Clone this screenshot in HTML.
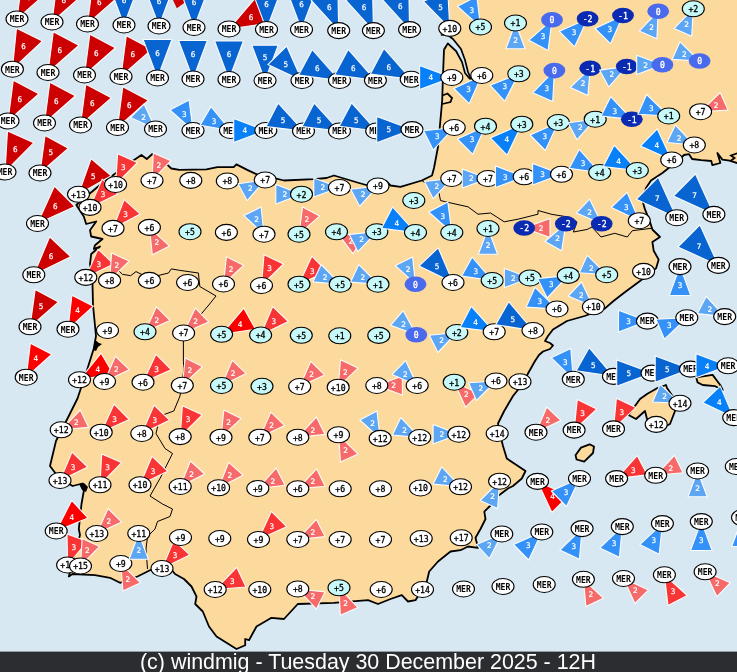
<!DOCTYPE html>
<html><head><meta charset="utf-8"><title>windmig</title>
<style>html,body{margin:0;padding:0;background:#d7e8f3;overflow:hidden}svg{display:block;will-change:transform}</style></head>
<body>
<svg width="737" height="672" viewBox="0 0 737 672" style="display:block">
<rect width="737" height="672" fill="#d7e8f3"/>
<polygon points="445.5,-2.0 447.0,20.0 448.0,34.0 446.0,46.0 444.0,50.0 443.0,75.0 442.2,100.0 441.8,105.0 438.0,147.0 434.0,168.0 432.0,175.5 421.8,180.5 400.5,186.8 390.5,185.5 386.0,181.0 368.0,185.5 359.0,183.0 334.0,175.5 326.5,178.0 314.0,179.2 284.0,180.5 269.0,176.8 256.5,174.2 247.2,169.9 236.4,164.4 233.7,167.1 217.4,167.1 206.5,169.3 179.4,169.9 171.3,168.5 168.5,165.8 152.3,154.0 146.8,159.0 141.4,155.0 133.3,160.4 120.0,170.0 100.0,185.0 82.0,200.0 76.3,205.0 83.8,216.5 86.2,224.0 96.2,221.5 90.0,230.2 91.2,236.5 102.5,239.0 95.0,245.2 93.8,249.0 100.0,246.5 91.2,254.0 90.0,264.0 92.0,275.0 92.5,283.8 93.0,305.0 96.0,336.0 93.8,348.5 87.5,368.5 77.5,398.5 67.5,418.5 56.0,441.0 50.0,466.0 57.5,476.0 72.5,486.0 82.5,483.5 83.8,491.0 81.5,504.0 78.8,529.0 80.0,535.0 76.0,550.0 68.8,576.5 72.5,574.0 95.0,575.2 110.0,577.8 120.0,582.8 137.5,576.5 150.0,570.2 170.0,567.8 175.0,574.0 184.0,579.0 191.5,586.5 196.5,596.5 195.2,604.0 202.8,611.5 209.0,626.5 216.5,636.5 236.5,649.0 245.2,645.2 245.2,639.0 249.0,640.2 256.5,626.5 271.5,617.8 284.0,619.0 297.8,604.0 334.0,602.8 368.0,600.2 378.0,604.0 390.5,599.0 401.8,595.2 408.0,601.5 415.5,600.2 426.8,581.5 429.2,571.5 438.0,561.5 450.5,551.5 460.5,550.2 468.0,546.5 478.0,547.8 475.5,537.8 480.5,529.0 485.5,519.0 484.3,511.6 491.0,505.0 498.0,496.0 508.0,488.5 513.0,486.0 521.8,478.5 525.5,471.0 518.0,466.0 506.8,458.5 503.0,446.0 500.5,436.0 498.0,423.5 504.2,411.0 513.0,396.0 523.0,383.5 528.0,373.5 535.0,361.0 539.0,355.0 543.0,351.5 550.0,349.0 553.0,345.5 550.0,343.0 545.0,341.0 548.0,336.0 553.0,329.5 567.0,321.0 584.6,316.0 604.7,308.6 613.5,301.0 624.8,292.2 640.0,281.0 656.0,268.4 658.7,259.6 653.7,250.8 652.4,242.0 660.0,237.0 652.4,229.5 650.0,222.0 645.0,209.4 642.4,200.6 646.0,188.0 651.0,180.5 662.4,173.0 668.7,168.0 676.0,163.0 684.0,155.0 689.1,154.2 692.1,159.0 701.2,160.2 711.3,161.0 712.3,165.1 720.4,163.0 717.4,153.0 722.4,159.6 729.5,160.6 740.0,164.0 740.0,-2.0" fill="#fcd99c" stroke="#000" stroke-width="1.8" stroke-linejoin="round"/>
<polygon points="656.2,388.7 666.0,385.0 667.0,388.0 672.5,396.0 675.0,411.0 670.0,424.0 662.0,428.0 647.0,419.0 645.0,411.0 636.0,419.0 628.5,415.0 635.0,406.0 640.0,399.0 647.4,393.7" fill="#fcd99c" stroke="#000" stroke-width="1.8" stroke-linejoin="round"/>
<polygon points="696.3,377.4 712.6,374.9 720.2,385.0 722.7,390.0 715.2,386.2 702.6,385.0 697.6,382.4" fill="#fcd99c" stroke="#000" stroke-width="1.8" stroke-linejoin="round"/>
<polygon points="575.5,455.2 581.0,447.6 589.6,444.3 594.0,446.5 593.0,453.0 584.2,461.7 576.6,459.5" fill="#fcd99c" stroke="#000" stroke-width="1.8" stroke-linejoin="round"/>
<polygon points="441.5,35.0 447.0,34.5 453.0,39.0 461.0,49.0 465.0,60.0 468.0,72.0 471.0,79.0 469.5,78.5 465.0,73.0 462.0,62.0 456.0,51.0 447.8,43.5 444.6,48.5" fill="#d7e8f3" stroke="#d7e8f3" stroke-width="1.2"/>
<polyline points="441.5,35.0 447.0,34.5 453.0,39.0 461.0,49.0 465.0,60.0 468.0,72.0 471.0,79.0" fill="none" stroke="#000" stroke-width="1.7" stroke-linejoin="round" stroke-linecap="round"/>
<polyline points="444.6,48.5 447.8,43.5 456.0,51.0 462.0,62.0 465.0,73.0 469.5,78.5" fill="none" stroke="#000" stroke-width="1.7" stroke-linejoin="round" stroke-linecap="round"/>
<polyline points="442.5,95.5 447.5,93.5 452.0,98.0 450.5,102.0 442.3,104.0" fill="none" stroke="#000" stroke-width="1.8"/>
<polyline points="738.0,153.0 731.0,155.5 734.5,158.0 730.5,161.0" fill="none" stroke="#000" stroke-width="1.8"/>
<polygon points="79.0,484.0 84.0,483.0 88.0,487.0 86.0,492.0 82.0,490.0" fill="#000"/>
<polygon points="95.0,340.0 99.0,343.0 102.0,344.0 98.0,347.0 96.0,351.0 93.0,350.0" fill="#000"/>
<polyline points="118.3,270.3 122.4,274.3 130.6,275.7 136.0,271.6 141.4,274.3 152.3,277.0 168.5,273.0 171.3,268.9 179.4,270.3 198.4,273.0 199.8,286.5 216.0,296.0 208.8,305.0 201.3,313.9 190.0,325.0 183.4,340.7 183.4,361.6 184.0,368.5 180.0,396.0 173.8,411.0 160.0,416.0 156.0,433.5 165.0,448.5 172.5,453.5 160.0,478.5 150.0,496.0 162.5,504.0 172.5,509.0 170.0,516.5 157.5,521.5 155.0,529.0 147.5,536.5 146.0,549.0 147.5,569.0" fill="none" stroke="#000" stroke-width="1"/>
<polyline points="421.8,180.5 439.0,193.0 440.5,200.5 445.5,201.8 468.0,206.8 478.0,214.2 490.5,213.0 504.2,221.8 518.0,219.2 538.0,214.2 538.0,210.5 552.0,214.4 568.3,217.0 577.0,222.0 573.3,232.0 587.0,229.5 592.0,227.0 601.0,237.0 614.7,233.3 627.3,237.0 632.3,230.7 652.4,228.2" fill="none" stroke="#000" stroke-width="1"/>
<polygon points="172.5,-1.0 176.8,8.2 184.2,3.0 186.0,-1.0" fill="#cc0000"/>
<g font-family="'DejaVu Sans Mono','Liberation Mono',monospace" font-size="8px" text-anchor="middle">
<polygon points="5.0,172.0 33.9,142.7 7.5,131.0" fill="#cc0000" stroke="#fff" stroke-opacity=".95" stroke-width="1.1" stroke-linejoin="round"/>
<text x="15.3" y="151.8" fill="#fff" stroke="#fff" stroke-width=".2" font-size="7.7px">6</text>
<ellipse cx="5.0" cy="172.0" rx="11" ry="8" fill="#ffffff" stroke="#000" stroke-width="1.1"/>
<text x="5.0" y="175.3" fill="#000" stroke="#000" stroke-width="0" font-weight="bold" textLength="14.7" lengthAdjust="spacingAndGlyphs">MER</text>
<polygon points="8.0,121.0 38.8,93.8 13.3,80.2" fill="#cc0000" stroke="#fff" stroke-opacity=".95" stroke-width="1.1" stroke-linejoin="round"/>
<text x="19.8" y="101.5" fill="#fff" stroke="#fff" stroke-width=".2" font-size="7.7px">6</text>
<ellipse cx="8.0" cy="121.0" rx="11" ry="8" fill="#ffffff" stroke="#000" stroke-width="1.1"/>
<text x="8.0" y="124.3" fill="#000" stroke="#000" stroke-width="0" font-weight="bold" textLength="14.7" lengthAdjust="spacingAndGlyphs">MER</text>
<polygon points="12.4,69.2 42.4,41.1 16.5,28.3" fill="#cc0000" stroke="#fff" stroke-opacity=".95" stroke-width="1.1" stroke-linejoin="round"/>
<text x="23.6" y="49.4" fill="#fff" stroke="#fff" stroke-width=".2" font-size="7.7px">6</text>
<ellipse cx="12.4" cy="69.2" rx="11" ry="8" fill="#ffffff" stroke="#000" stroke-width="1.1"/>
<text x="12.4" y="72.5" fill="#000" stroke="#000" stroke-width="0" font-weight="bold" textLength="14.7" lengthAdjust="spacingAndGlyphs">MER</text>
<polygon points="17.0,19.0 47.8,-8.2 22.3,-21.8" fill="#cc0000" stroke="#fff" stroke-opacity=".95" stroke-width="1.1" stroke-linejoin="round"/>
<text x="28.8" y="-0.5" fill="#fff" stroke="#fff" stroke-width=".2" font-size="7.7px">6</text>
<ellipse cx="17.0" cy="19.0" rx="11" ry="8" fill="#ffffff" stroke="#000" stroke-width="1.1"/>
<text x="17.0" y="22.3" fill="#000" stroke="#000" stroke-width="0" font-weight="bold" textLength="14.7" lengthAdjust="spacingAndGlyphs">MER</text>
<polygon points="26.2,377.2 51.7,354.3 30.4,343.2" fill="#fc0000" stroke="#fff" stroke-opacity=".95" stroke-width="1.1" stroke-linejoin="round"/>
<text x="35.9" y="361.4" fill="#fff" stroke="#fff" stroke-width=".2" font-size="7.7px">4</text>
<ellipse cx="26.2" cy="377.2" rx="11" ry="8" fill="#ffffff" stroke="#000" stroke-width="1.1"/>
<text x="26.2" y="380.6" fill="#000" stroke="#000" stroke-width="0" font-weight="bold" textLength="14.7" lengthAdjust="spacingAndGlyphs">MER</text>
<polygon points="30.0,326.8 58.5,302.0 35.2,289.4" fill="#cc0000" stroke="#fff" stroke-opacity=".95" stroke-width="1.1" stroke-linejoin="round"/>
<text x="41.0" y="309.2" fill="#fff" stroke="#fff" stroke-width=".2" font-size="7.7px">5</text>
<ellipse cx="30.0" cy="326.8" rx="11" ry="8" fill="#ffffff" stroke="#000" stroke-width="1.1"/>
<text x="30.0" y="330.1" fill="#000" stroke="#000" stroke-width="0" font-weight="bold" textLength="14.7" lengthAdjust="spacingAndGlyphs">MER</text>
<polygon points="33.8,274.8 70.7,256.7 49.7,236.8" fill="#cc0000" stroke="#fff" stroke-opacity=".95" stroke-width="1.1" stroke-linejoin="round"/>
<text x="51.1" y="259.2" fill="#fff" stroke="#fff" stroke-width=".2" font-size="7.7px">6</text>
<ellipse cx="33.8" cy="274.8" rx="11" ry="8" fill="#ffffff" stroke="#000" stroke-width="1.1"/>
<text x="33.8" y="278.1" fill="#000" stroke="#000" stroke-width="0" font-weight="bold" textLength="14.7" lengthAdjust="spacingAndGlyphs">MER</text>
<polygon points="37.5,223.5 74.9,206.5 54.5,186.1" fill="#cc0000" stroke="#fff" stroke-opacity=".95" stroke-width="1.1" stroke-linejoin="round"/>
<text x="55.3" y="208.5" fill="#fff" stroke="#fff" stroke-width=".2" font-size="7.7px">6</text>
<ellipse cx="37.5" cy="223.5" rx="11" ry="8" fill="#ffffff" stroke="#000" stroke-width="1.1"/>
<text x="37.5" y="226.8" fill="#000" stroke="#000" stroke-width="0" font-weight="bold" textLength="14.7" lengthAdjust="spacingAndGlyphs">MER</text>
<polygon points="40.0,173.0 68.4,148.2 45.0,135.6" fill="#cc0000" stroke="#fff" stroke-opacity=".95" stroke-width="1.1" stroke-linejoin="round"/>
<text x="50.9" y="155.4" fill="#fff" stroke="#fff" stroke-width=".2" font-size="7.7px">5</text>
<ellipse cx="40.0" cy="173.0" rx="11" ry="8" fill="#ffffff" stroke="#000" stroke-width="1.1"/>
<text x="40.0" y="176.3" fill="#000" stroke="#000" stroke-width="0" font-weight="bold" textLength="14.7" lengthAdjust="spacingAndGlyphs">MER</text>
<polygon points="44.5,123.0 75.3,95.8 49.8,82.2" fill="#cc0000" stroke="#fff" stroke-opacity=".95" stroke-width="1.1" stroke-linejoin="round"/>
<text x="56.3" y="103.5" fill="#fff" stroke="#fff" stroke-width=".2" font-size="7.7px">6</text>
<ellipse cx="44.5" cy="123.0" rx="11" ry="8" fill="#ffffff" stroke="#000" stroke-width="1.1"/>
<text x="44.5" y="126.3" fill="#000" stroke="#000" stroke-width="0" font-weight="bold" textLength="14.7" lengthAdjust="spacingAndGlyphs">MER</text>
<polygon points="48.0,72.5 78.8,45.3 53.3,31.7" fill="#cc0000" stroke="#fff" stroke-opacity=".95" stroke-width="1.1" stroke-linejoin="round"/>
<text x="59.8" y="53.0" fill="#fff" stroke="#fff" stroke-width=".2" font-size="7.7px">6</text>
<ellipse cx="48.0" cy="72.5" rx="11" ry="8" fill="#ffffff" stroke="#000" stroke-width="1.1"/>
<text x="48.0" y="75.8" fill="#000" stroke="#000" stroke-width="0" font-weight="bold" textLength="14.7" lengthAdjust="spacingAndGlyphs">MER</text>
<polygon points="52.0,22.0 82.8,-5.2 57.3,-18.8" fill="#cc0000" stroke="#fff" stroke-opacity=".95" stroke-width="1.1" stroke-linejoin="round"/>
<text x="63.8" y="2.5" fill="#fff" stroke="#fff" stroke-width=".2" font-size="7.7px">6</text>
<ellipse cx="52.0" cy="22.0" rx="11" ry="8" fill="#ffffff" stroke="#000" stroke-width="1.1"/>
<text x="52.0" y="25.3" fill="#000" stroke="#000" stroke-width="0" font-weight="bold" textLength="14.7" lengthAdjust="spacingAndGlyphs">MER</text>
<polygon points="56.2,531.0 88.0,518.1 71.7,500.4" fill="#fc0000" stroke="#fff" stroke-opacity=".95" stroke-width="1.1" stroke-linejoin="round"/>
<text x="71.7" y="519.5" fill="#fff" stroke="#fff" stroke-width=".2" font-size="7.7px">4</text>
<ellipse cx="56.2" cy="531.0" rx="11" ry="8" fill="#ffffff" stroke="#000" stroke-width="1.1"/>
<text x="56.2" y="534.3" fill="#000" stroke="#000" stroke-width="0" font-weight="bold" textLength="14.7" lengthAdjust="spacingAndGlyphs">MER</text>
<polygon points="60.0,480.5 87.7,467.0 72.0,452.1" fill="#f93434" stroke="#fff" stroke-opacity=".95" stroke-width="1.1" stroke-linejoin="round"/>
<text x="73.0" y="469.6" fill="#fff" stroke="#fff" stroke-width=".2" font-size="7.7px">3</text>
<ellipse cx="60.0" cy="480.5" rx="11" ry="8" fill="#ffffff" stroke="#000" stroke-width="1.1"/>
<text x="60.0" y="483.8" fill="#000" stroke="#000" stroke-width=".3" textLength="14.7" lengthAdjust="spacingAndGlyphs">+13</text>
<polygon points="61.2,429.8 88.6,427.4 80.3,410.0" fill="#f66a6a" stroke="#fff" stroke-opacity=".95" stroke-width="1.1" stroke-linejoin="round"/>
<text x="76.4" y="425.3" fill="#fff" stroke="#fff" stroke-width=".2" font-size="7.7px">2</text>
<ellipse cx="61.2" cy="429.8" rx="11" ry="8" fill="#ffffff" stroke="#000" stroke-width="1.1"/>
<text x="61.2" y="433.1" fill="#000" stroke="#000" stroke-width=".3" textLength="14.7" lengthAdjust="spacingAndGlyphs">+12</text>
<polygon points="67.6,565.0 87.5,541.4 67.0,534.1" fill="#f93434" stroke="#fff" stroke-opacity=".95" stroke-width="1.1" stroke-linejoin="round"/>
<text x="73.9" y="550.0" fill="#fff" stroke="#fff" stroke-width=".2" font-size="7.7px">3</text>
<ellipse cx="67.6" cy="565.0" rx="11" ry="8" fill="#ffffff" stroke="#000" stroke-width="1.1"/>
<text x="67.6" y="568.3" fill="#000" stroke="#000" stroke-width=".3" textLength="14.7" lengthAdjust="spacingAndGlyphs">+14</text>
<polygon points="68.0,329.2 93.4,306.2 71.9,295.2" fill="#fc0000" stroke="#fff" stroke-opacity=".95" stroke-width="1.1" stroke-linejoin="round"/>
<text x="77.6" y="313.3" fill="#fff" stroke="#fff" stroke-width=".2" font-size="7.7px">4</text>
<ellipse cx="68.0" cy="329.2" rx="11" ry="8" fill="#ffffff" stroke="#000" stroke-width="1.1"/>
<text x="68.0" y="332.6" fill="#000" stroke="#000" stroke-width="0" font-weight="bold" textLength="14.7" lengthAdjust="spacingAndGlyphs">MER</text>
<polygon points="78.5,194.3 111.3,175.8 91.0,158.7" fill="#cc0000" stroke="#fff" stroke-opacity=".95" stroke-width="1.1" stroke-linejoin="round"/>
<text x="93.4" y="179.4" fill="#fff" stroke="#fff" stroke-width=".2" font-size="7.7px">5</text>
<ellipse cx="78.5" cy="194.3" rx="11" ry="8" fill="#ffffff" stroke="#000" stroke-width="1.1"/>
<text x="78.5" y="197.6" fill="#000" stroke="#000" stroke-width=".3" textLength="14.7" lengthAdjust="spacingAndGlyphs">+13</text>
<polygon points="79.5,379.8 113.3,373.9 101.1,353.2" fill="#fc0000" stroke="#fff" stroke-opacity=".95" stroke-width="1.1" stroke-linejoin="round"/>
<text x="97.7" y="371.9" fill="#fff" stroke="#fff" stroke-width=".2" font-size="7.7px">4</text>
<ellipse cx="79.5" cy="379.8" rx="11" ry="8" fill="#ffffff" stroke="#000" stroke-width="1.1"/>
<text x="79.5" y="383.1" fill="#000" stroke="#000" stroke-width=".3" textLength="14.7" lengthAdjust="spacingAndGlyphs">+12</text>
<polygon points="80.5,125.0 111.3,97.8 85.8,84.2" fill="#cc0000" stroke="#fff" stroke-opacity=".95" stroke-width="1.1" stroke-linejoin="round"/>
<text x="92.3" y="105.5" fill="#fff" stroke="#fff" stroke-width=".2" font-size="7.7px">6</text>
<ellipse cx="80.5" cy="125.0" rx="11" ry="8" fill="#ffffff" stroke="#000" stroke-width="1.1"/>
<text x="80.5" y="128.3" fill="#000" stroke="#000" stroke-width="0" font-weight="bold" textLength="14.7" lengthAdjust="spacingAndGlyphs">MER</text>
<polygon points="80.5,566.0 99.7,546.4 82.1,538.6" fill="#f66a6a" stroke="#fff" stroke-opacity=".95" stroke-width="1.1" stroke-linejoin="round"/>
<text x="87.3" y="553.4" fill="#fff" stroke="#fff" stroke-width=".2" font-size="7.7px">2</text>
<ellipse cx="80.5" cy="566.0" rx="11" ry="8" fill="#ffffff" stroke="#000" stroke-width="1.1"/>
<text x="80.5" y="569.3" fill="#000" stroke="#000" stroke-width=".3" textLength="14.7" lengthAdjust="spacingAndGlyphs">+15</text>
<polygon points="84.5,75.0 115.3,47.8 89.8,34.2" fill="#cc0000" stroke="#fff" stroke-opacity=".95" stroke-width="1.1" stroke-linejoin="round"/>
<text x="96.3" y="55.5" fill="#fff" stroke="#fff" stroke-width=".2" font-size="7.7px">6</text>
<ellipse cx="84.5" cy="75.0" rx="11" ry="8" fill="#ffffff" stroke="#000" stroke-width="1.1"/>
<text x="84.5" y="78.3" fill="#000" stroke="#000" stroke-width="0" font-weight="bold" textLength="14.7" lengthAdjust="spacingAndGlyphs">MER</text>
<polygon points="85.8,277.4 113.7,264.1 98.0,249.1" fill="#f93434" stroke="#fff" stroke-opacity=".95" stroke-width="1.1" stroke-linejoin="round"/>
<text x="98.9" y="266.6" fill="#fff" stroke="#fff" stroke-width=".2" font-size="7.7px">3</text>
<ellipse cx="85.8" cy="277.4" rx="11" ry="8" fill="#ffffff" stroke="#000" stroke-width="1.1"/>
<text x="85.8" y="280.7" fill="#000" stroke="#000" stroke-width=".3" textLength="14.7" lengthAdjust="spacingAndGlyphs">+12</text>
<polygon points="87.5,24.0 118.3,-3.2 92.8,-16.8" fill="#cc0000" stroke="#fff" stroke-opacity=".95" stroke-width="1.1" stroke-linejoin="round"/>
<text x="99.3" y="4.5" fill="#fff" stroke="#fff" stroke-width=".2" font-size="7.7px">6</text>
<ellipse cx="87.5" cy="24.0" rx="11" ry="8" fill="#ffffff" stroke="#000" stroke-width="1.1"/>
<text x="87.5" y="27.3" fill="#000" stroke="#000" stroke-width="0" font-weight="bold" textLength="14.7" lengthAdjust="spacingAndGlyphs">MER</text>
<polygon points="90.0,207.4 117.8,194.1 102.2,179.1" fill="#f93434" stroke="#fff" stroke-opacity=".95" stroke-width="1.1" stroke-linejoin="round"/>
<text x="103.1" y="196.6" fill="#fff" stroke="#fff" stroke-width=".2" font-size="7.7px">3</text>
<ellipse cx="90.0" cy="207.4" rx="11" ry="8" fill="#ffffff" stroke="#000" stroke-width="1.1"/>
<text x="90.0" y="210.7" fill="#000" stroke="#000" stroke-width=".3" textLength="14.7" lengthAdjust="spacingAndGlyphs">+10</text>
<polygon points="96.8,533.5 121.7,522.1 108.1,508.5" fill="#f66a6a" stroke="#fff" stroke-opacity=".95" stroke-width="1.1" stroke-linejoin="round"/>
<text x="108.7" y="524.4" fill="#fff" stroke="#fff" stroke-width=".2" font-size="7.7px">2</text>
<ellipse cx="96.8" cy="533.5" rx="11" ry="8" fill="#ffffff" stroke="#000" stroke-width="1.1"/>
<text x="96.8" y="536.8" fill="#000" stroke="#000" stroke-width=".3" textLength="14.7" lengthAdjust="spacingAndGlyphs">+13</text>
<polygon points="100.0,484.8 121.5,462.6 101.7,453.9" fill="#f93434" stroke="#fff" stroke-opacity=".95" stroke-width="1.1" stroke-linejoin="round"/>
<text x="107.6" y="470.2" fill="#fff" stroke="#fff" stroke-width=".2" font-size="7.7px">3</text>
<ellipse cx="100.0" cy="484.8" rx="11" ry="8" fill="#ffffff" stroke="#000" stroke-width="1.1"/>
<text x="100.0" y="488.1" fill="#000" stroke="#000" stroke-width=".3" textLength="14.7" lengthAdjust="spacingAndGlyphs">+11</text>
<polygon points="101.2,432.2 129.3,419.5 114.0,404.2" fill="#f93434" stroke="#fff" stroke-opacity=".95" stroke-width="1.1" stroke-linejoin="round"/>
<text x="114.6" y="421.7" fill="#fff" stroke="#fff" stroke-width=".2" font-size="7.7px">3</text>
<ellipse cx="101.2" cy="432.2" rx="11" ry="8" fill="#ffffff" stroke="#000" stroke-width="1.1"/>
<text x="101.2" y="435.6" fill="#000" stroke="#000" stroke-width=".3" textLength="14.7" lengthAdjust="spacingAndGlyphs">+10</text>
<polygon points="104.5,381.5 129.3,369.7 115.4,356.3" fill="#f66a6a" stroke="#fff" stroke-opacity=".95" stroke-width="1.1" stroke-linejoin="round"/>
<text x="116.2" y="372.2" fill="#fff" stroke="#fff" stroke-width=".2" font-size="7.7px">2</text>
<ellipse cx="104.5" cy="381.5" rx="11" ry="8" fill="#ffffff" stroke="#000" stroke-width="1.1"/>
<text x="104.5" y="384.8" fill="#000" stroke="#000" stroke-width=".3" textLength="9.8" lengthAdjust="spacingAndGlyphs">+9</text>
<ellipse cx="107.5" cy="330.5" rx="11" ry="8" fill="#ffffff" stroke="#000" stroke-width="1.1"/>
<text x="107.5" y="333.8" fill="#000" stroke="#000" stroke-width=".3" textLength="9.8" lengthAdjust="spacingAndGlyphs">+9</text>
<polygon points="109.6,280.4 129.1,261.1 111.6,253.0" fill="#f66a6a" stroke="#fff" stroke-opacity=".95" stroke-width="1.1" stroke-linejoin="round"/>
<text x="116.7" y="267.9" fill="#fff" stroke="#fff" stroke-width=".2" font-size="7.7px">2</text>
<ellipse cx="109.6" cy="280.4" rx="11" ry="8" fill="#ffffff" stroke="#000" stroke-width="1.1"/>
<text x="109.6" y="283.7" fill="#000" stroke="#000" stroke-width=".3" textLength="9.8" lengthAdjust="spacingAndGlyphs">+8</text>
<polygon points="113.0,228.4 140.3,214.1 124.2,199.6" fill="#f93434" stroke="#fff" stroke-opacity=".95" stroke-width="1.1" stroke-linejoin="round"/>
<text x="125.6" y="217.1" fill="#fff" stroke="#fff" stroke-width=".2" font-size="7.7px">3</text>
<ellipse cx="113.0" cy="228.4" rx="11" ry="8" fill="#ffffff" stroke="#000" stroke-width="1.1"/>
<text x="113.0" y="231.7" fill="#000" stroke="#000" stroke-width=".3" textLength="9.8" lengthAdjust="spacingAndGlyphs">+7</text>
<polygon points="115.6,184.5 137.3,162.6 117.6,153.7" fill="#f93434" stroke="#fff" stroke-opacity=".95" stroke-width="1.1" stroke-linejoin="round"/>
<text x="123.4" y="170.0" fill="#fff" stroke="#fff" stroke-width=".2" font-size="7.7px">3</text>
<ellipse cx="115.6" cy="184.5" rx="11" ry="8" fill="#ffffff" stroke="#000" stroke-width="1.1"/>
<text x="115.6" y="187.8" fill="#000" stroke="#000" stroke-width=".3" textLength="14.7" lengthAdjust="spacingAndGlyphs">+10</text>
<polygon points="117.5,127.5 148.3,100.3 122.8,86.7" fill="#cc0000" stroke="#fff" stroke-opacity=".95" stroke-width="1.1" stroke-linejoin="round"/>
<text x="129.3" y="108.0" fill="#fff" stroke="#fff" stroke-width=".2" font-size="7.7px">6</text>
<ellipse cx="117.5" cy="127.5" rx="11" ry="8" fill="#ffffff" stroke="#000" stroke-width="1.1"/>
<text x="117.5" y="130.8" fill="#000" stroke="#000" stroke-width="0" font-weight="bold" textLength="14.7" lengthAdjust="spacingAndGlyphs">MER</text>
<polygon points="120.8,563.5 122.9,590.9 140.4,582.7" fill="#f66a6a" stroke="#fff" stroke-opacity=".95" stroke-width="1.1" stroke-linejoin="round"/>
<text x="127.9" y="581.5" fill="#fff" stroke="#fff" stroke-width=".2" font-size="7.7px">2</text>
<ellipse cx="120.8" cy="563.5" rx="11" ry="8" fill="#ffffff" stroke="#000" stroke-width="1.1"/>
<text x="120.8" y="566.8" fill="#000" stroke="#000" stroke-width=".3" textLength="9.8" lengthAdjust="spacingAndGlyphs">+9</text>
<polygon points="121.0,76.5 151.8,49.3 126.3,35.7" fill="#cc0000" stroke="#fff" stroke-opacity=".95" stroke-width="1.1" stroke-linejoin="round"/>
<text x="132.8" y="57.0" fill="#fff" stroke="#fff" stroke-width=".2" font-size="7.7px">6</text>
<ellipse cx="121.0" cy="76.5" rx="11" ry="8" fill="#ffffff" stroke="#000" stroke-width="1.1"/>
<text x="121.0" y="79.8" fill="#000" stroke="#000" stroke-width="0" font-weight="bold" textLength="14.7" lengthAdjust="spacingAndGlyphs">MER</text>
<polygon points="124.0,25.0 138.4,-13.5 109.6,-13.5" fill="#0864d0" stroke="#fff" stroke-opacity=".95" stroke-width="1.1" stroke-linejoin="round"/>
<text x="124.0" y="2.6" fill="#fff" stroke="#fff" stroke-width=".2" font-size="7.7px">6</text>
<ellipse cx="124.0" cy="25.0" rx="11" ry="8" fill="#ffffff" stroke="#000" stroke-width="1.1"/>
<text x="124.0" y="28.3" fill="#000" stroke="#000" stroke-width="0" font-weight="bold" textLength="14.7" lengthAdjust="spacingAndGlyphs">MER</text>
<polygon points="138.8,533.5 129.1,559.2 148.4,559.2" fill="#5ca6f4" stroke="#fff" stroke-opacity=".95" stroke-width="1.1" stroke-linejoin="round"/>
<text x="138.8" y="553.1" fill="#fff" stroke="#fff" stroke-width=".2" font-size="7.7px">2</text>
<ellipse cx="138.8" cy="533.5" rx="11" ry="8" fill="#ffffff" stroke="#000" stroke-width="1.1"/>
<text x="138.8" y="536.8" fill="#000" stroke="#000" stroke-width=".3" textLength="14.7" lengthAdjust="spacingAndGlyphs">+11</text>
<polygon points="140.0,484.8 167.7,471.2 152.0,456.3" fill="#f93434" stroke="#fff" stroke-opacity=".95" stroke-width="1.1" stroke-linejoin="round"/>
<text x="153.0" y="473.8" fill="#fff" stroke="#fff" stroke-width=".2" font-size="7.7px">3</text>
<ellipse cx="140.0" cy="484.8" rx="11" ry="8" fill="#ffffff" stroke="#000" stroke-width="1.1"/>
<text x="140.0" y="488.1" fill="#000" stroke="#000" stroke-width=".3" textLength="14.7" lengthAdjust="spacingAndGlyphs">+10</text>
<polygon points="141.8,433.5 169.6,420.2 154.0,405.2" fill="#f93434" stroke="#fff" stroke-opacity=".95" stroke-width="1.1" stroke-linejoin="round"/>
<text x="154.9" y="422.7" fill="#fff" stroke="#fff" stroke-width=".2" font-size="7.7px">3</text>
<ellipse cx="141.8" cy="433.5" rx="11" ry="8" fill="#ffffff" stroke="#000" stroke-width="1.1"/>
<text x="141.8" y="436.8" fill="#000" stroke="#000" stroke-width=".3" textLength="9.8" lengthAdjust="spacingAndGlyphs">+8</text>
<polygon points="143.0,382.2 171.2,369.7 156.0,354.3" fill="#f93434" stroke="#fff" stroke-opacity=".95" stroke-width="1.1" stroke-linejoin="round"/>
<text x="156.5" y="371.8" fill="#fff" stroke="#fff" stroke-width=".2" font-size="7.7px">3</text>
<ellipse cx="143.0" cy="382.2" rx="11" ry="8" fill="#ffffff" stroke="#000" stroke-width="1.1"/>
<text x="143.0" y="385.6" fill="#000" stroke="#000" stroke-width=".3" textLength="9.8" lengthAdjust="spacingAndGlyphs">+6</text>
<polygon points="145.0,331.8 170.0,320.4 156.4,306.8" fill="#f66a6a" stroke="#fff" stroke-opacity=".95" stroke-width="1.1" stroke-linejoin="round"/>
<text x="156.9" y="322.6" fill="#fff" stroke="#fff" stroke-width=".2" font-size="7.7px">2</text>
<ellipse cx="145.0" cy="331.8" rx="11" ry="8" fill="#c8f9f9" stroke="#000" stroke-width="1.1"/>
<text x="145.0" y="335.1" fill="#000" stroke="#000" stroke-width=".3" textLength="9.8" lengthAdjust="spacingAndGlyphs">+4</text>
<polygon points="149.4,227.4 152.3,254.7 169.5,246.1" fill="#f66a6a" stroke="#fff" stroke-opacity=".95" stroke-width="1.1" stroke-linejoin="round"/>
<text x="156.9" y="245.3" fill="#fff" stroke="#fff" stroke-width=".2" font-size="7.7px">2</text>
<ellipse cx="149.4" cy="227.4" rx="11" ry="8" fill="#ffffff" stroke="#000" stroke-width="1.1"/>
<text x="149.4" y="230.7" fill="#000" stroke="#000" stroke-width=".3" textLength="9.8" lengthAdjust="spacingAndGlyphs">+6</text>
<ellipse cx="149.4" cy="280.4" rx="11" ry="8" fill="#ffffff" stroke="#000" stroke-width="1.1"/>
<text x="149.4" y="283.7" fill="#000" stroke="#000" stroke-width=".3" textLength="9.8" lengthAdjust="spacingAndGlyphs">+6</text>
<polygon points="152.0,180.5 171.0,160.7 153.3,153.1" fill="#f66a6a" stroke="#fff" stroke-opacity=".95" stroke-width="1.1" stroke-linejoin="round"/>
<text x="158.7" y="167.8" fill="#fff" stroke="#fff" stroke-width=".2" font-size="7.7px">2</text>
<ellipse cx="152.0" cy="180.5" rx="11" ry="8" fill="#ffffff" stroke="#000" stroke-width="1.1"/>
<text x="152.0" y="183.8" fill="#000" stroke="#000" stroke-width=".3" textLength="9.8" lengthAdjust="spacingAndGlyphs">+7</text>
<polygon points="155.5,129.0 144.1,104.0 130.5,117.6" fill="#5ca6f4" stroke="#fff" stroke-opacity=".95" stroke-width="1.1" stroke-linejoin="round"/>
<text x="143.6" y="119.9" fill="#fff" stroke="#fff" stroke-width=".2" font-size="7.7px">2</text>
<ellipse cx="155.5" cy="129.0" rx="11" ry="8" fill="#ffffff" stroke="#000" stroke-width="1.1"/>
<text x="155.5" y="132.3" fill="#000" stroke="#000" stroke-width="0" font-weight="bold" textLength="14.7" lengthAdjust="spacingAndGlyphs">MER</text>
<polygon points="157.5,78.0 171.9,39.5 143.1,39.5" fill="#0864d0" stroke="#fff" stroke-opacity=".95" stroke-width="1.1" stroke-linejoin="round"/>
<text x="157.5" y="55.6" fill="#fff" stroke="#fff" stroke-width=".2" font-size="7.7px">6</text>
<ellipse cx="157.5" cy="78.0" rx="11" ry="8" fill="#ffffff" stroke="#000" stroke-width="1.1"/>
<text x="157.5" y="81.3" fill="#000" stroke="#000" stroke-width="0" font-weight="bold" textLength="14.7" lengthAdjust="spacingAndGlyphs">MER</text>
<polygon points="159.0,26.0 173.4,-12.5 144.6,-12.5" fill="#0864d0" stroke="#fff" stroke-opacity=".95" stroke-width="1.1" stroke-linejoin="round"/>
<text x="159.0" y="3.6" fill="#fff" stroke="#fff" stroke-width=".2" font-size="7.7px">6</text>
<ellipse cx="159.0" cy="26.0" rx="11" ry="8" fill="#ffffff" stroke="#000" stroke-width="1.1"/>
<text x="159.0" y="29.3" fill="#000" stroke="#000" stroke-width="0" font-weight="bold" textLength="14.7" lengthAdjust="spacingAndGlyphs">MER</text>
<polygon points="162.0,568.5 189.7,554.9 174.0,540.1" fill="#f93434" stroke="#fff" stroke-opacity=".95" stroke-width="1.1" stroke-linejoin="round"/>
<text x="175.0" y="557.5" fill="#fff" stroke="#fff" stroke-width=".2" font-size="7.7px">3</text>
<ellipse cx="162.0" cy="568.5" rx="11" ry="8" fill="#ffffff" stroke="#000" stroke-width="1.1"/>
<text x="162.0" y="571.8" fill="#000" stroke="#000" stroke-width=".3" textLength="14.7" lengthAdjust="spacingAndGlyphs">+13</text>
<polygon points="180.2,436.6 202.1,414.8 182.4,405.8" fill="#f93434" stroke="#fff" stroke-opacity=".95" stroke-width="1.1" stroke-linejoin="round"/>
<text x="188.1" y="422.2" fill="#fff" stroke="#fff" stroke-width=".2" font-size="7.7px">3</text>
<ellipse cx="180.2" cy="436.6" rx="11" ry="8" fill="#ffffff" stroke="#000" stroke-width="1.1"/>
<text x="180.2" y="439.9" fill="#000" stroke="#000" stroke-width=".3" textLength="9.8" lengthAdjust="spacingAndGlyphs">+8</text>
<polygon points="180.2,486.5 204.7,474.0 190.4,461.0" fill="#f66a6a" stroke="#fff" stroke-opacity=".95" stroke-width="1.1" stroke-linejoin="round"/>
<text x="191.6" y="476.9" fill="#fff" stroke="#fff" stroke-width=".2" font-size="7.7px">2</text>
<ellipse cx="180.2" cy="486.5" rx="11" ry="8" fill="#ffffff" stroke="#000" stroke-width="1.1"/>
<text x="180.2" y="489.8" fill="#000" stroke="#000" stroke-width=".3" textLength="14.7" lengthAdjust="spacingAndGlyphs">+11</text>
<ellipse cx="180.5" cy="537.5" rx="11" ry="8" fill="#ffffff" stroke="#000" stroke-width="1.1"/>
<text x="180.5" y="540.8" fill="#000" stroke="#000" stroke-width=".3" textLength="9.8" lengthAdjust="spacingAndGlyphs">+9</text>
<polygon points="182.3,385.3 202.4,366.6 185.2,358.0" fill="#f66a6a" stroke="#fff" stroke-opacity=".95" stroke-width="1.1" stroke-linejoin="round"/>
<text x="189.8" y="373.0" fill="#fff" stroke="#fff" stroke-width=".2" font-size="7.7px">2</text>
<ellipse cx="182.3" cy="385.3" rx="11" ry="8" fill="#ffffff" stroke="#000" stroke-width="1.1"/>
<text x="182.3" y="388.6" fill="#000" stroke="#000" stroke-width=".3" textLength="9.8" lengthAdjust="spacingAndGlyphs">+7</text>
<polygon points="183.6,333.0 208.7,321.9 195.3,308.1" fill="#f66a6a" stroke="#fff" stroke-opacity=".95" stroke-width="1.1" stroke-linejoin="round"/>
<text x="195.6" y="324.0" fill="#fff" stroke="#fff" stroke-width=".2" font-size="7.7px">2</text>
<ellipse cx="183.6" cy="333.0" rx="11" ry="8" fill="#ffffff" stroke="#000" stroke-width="1.1"/>
<text x="183.6" y="336.3" fill="#000" stroke="#000" stroke-width=".3" textLength="9.8" lengthAdjust="spacingAndGlyphs">+7</text>
<ellipse cx="187.6" cy="282.5" rx="11" ry="8" fill="#ffffff" stroke="#000" stroke-width="1.1"/>
<text x="187.6" y="285.8" fill="#000" stroke="#000" stroke-width=".3" textLength="9.8" lengthAdjust="spacingAndGlyphs">+6</text>
<ellipse cx="190.0" cy="231.7" rx="11" ry="8" fill="#c8f9f9" stroke="#000" stroke-width="1.1"/>
<text x="190.0" y="235.0" fill="#000" stroke="#000" stroke-width=".3" textLength="9.8" lengthAdjust="spacingAndGlyphs">+5</text>
<ellipse cx="190.8" cy="180.4" rx="11" ry="8" fill="#ffffff" stroke="#000" stroke-width="1.1"/>
<text x="190.8" y="183.7" fill="#000" stroke="#000" stroke-width=".3" textLength="9.8" lengthAdjust="spacingAndGlyphs">+8</text>
<polygon points="193.0,79.0 207.4,40.5 178.6,40.5" fill="#0864d0" stroke="#fff" stroke-opacity=".95" stroke-width="1.1" stroke-linejoin="round"/>
<text x="193.0" y="56.6" fill="#fff" stroke="#fff" stroke-width=".2" font-size="7.7px">6</text>
<ellipse cx="193.0" cy="79.0" rx="11" ry="8" fill="#ffffff" stroke="#000" stroke-width="1.1"/>
<text x="193.0" y="82.3" fill="#000" stroke="#000" stroke-width="0" font-weight="bold" textLength="14.7" lengthAdjust="spacingAndGlyphs">MER</text>
<polygon points="193.0,130.5 189.1,99.9 169.9,110.0" fill="#3391f7" stroke="#fff" stroke-opacity=".95" stroke-width="1.1" stroke-linejoin="round"/>
<text x="184.2" y="116.6" fill="#fff" stroke="#fff" stroke-width=".2" font-size="7.7px">3</text>
<ellipse cx="193.0" cy="130.5" rx="11" ry="8" fill="#ffffff" stroke="#000" stroke-width="1.1"/>
<text x="193.0" y="133.8" fill="#000" stroke="#000" stroke-width="0" font-weight="bold" textLength="14.7" lengthAdjust="spacingAndGlyphs">MER</text>
<polygon points="194.0,27.5 208.4,-11.0 179.6,-11.0" fill="#0864d0" stroke="#fff" stroke-opacity=".95" stroke-width="1.1" stroke-linejoin="round"/>
<text x="194.0" y="5.1" fill="#fff" stroke="#fff" stroke-width=".2" font-size="7.7px">6</text>
<ellipse cx="194.0" cy="27.5" rx="11" ry="8" fill="#ffffff" stroke="#000" stroke-width="1.1"/>
<text x="194.0" y="30.8" fill="#000" stroke="#000" stroke-width="0" font-weight="bold" textLength="14.7" lengthAdjust="spacingAndGlyphs">MER</text>
<polygon points="215.2,589.5 246.0,587.0 236.8,567.4" fill="#f93434" stroke="#fff" stroke-opacity=".95" stroke-width="1.1" stroke-linejoin="round"/>
<text x="232.4" y="584.2" fill="#fff" stroke="#fff" stroke-width=".2" font-size="7.7px">3</text>
<ellipse cx="215.2" cy="589.5" rx="11" ry="8" fill="#ffffff" stroke="#000" stroke-width="1.1"/>
<text x="215.2" y="592.8" fill="#000" stroke="#000" stroke-width=".3" textLength="14.7" lengthAdjust="spacingAndGlyphs">+12</text>
<polygon points="218.6,487.8 243.0,475.2 228.7,462.3" fill="#f66a6a" stroke="#fff" stroke-opacity=".95" stroke-width="1.1" stroke-linejoin="round"/>
<text x="229.9" y="478.1" fill="#fff" stroke="#fff" stroke-width=".2" font-size="7.7px">2</text>
<ellipse cx="218.6" cy="487.8" rx="11" ry="8" fill="#ffffff" stroke="#000" stroke-width="1.1"/>
<text x="218.6" y="491.1" fill="#000" stroke="#000" stroke-width=".3" textLength="14.7" lengthAdjust="spacingAndGlyphs">+10</text>
<ellipse cx="219.8" cy="538.5" rx="11" ry="8" fill="#ffffff" stroke="#000" stroke-width="1.1"/>
<text x="219.8" y="541.8" fill="#000" stroke="#000" stroke-width=".3" textLength="9.8" lengthAdjust="spacingAndGlyphs">+9</text>
<polygon points="221.0,437.2 241.1,418.6 223.9,410.0" fill="#f66a6a" stroke="#fff" stroke-opacity=".95" stroke-width="1.1" stroke-linejoin="round"/>
<text x="228.5" y="425.0" fill="#fff" stroke="#fff" stroke-width=".2" font-size="7.7px">2</text>
<ellipse cx="221.0" cy="437.2" rx="11" ry="8" fill="#ffffff" stroke="#000" stroke-width="1.1"/>
<text x="221.0" y="440.6" fill="#000" stroke="#000" stroke-width=".3" textLength="9.8" lengthAdjust="spacingAndGlyphs">+9</text>
<polygon points="221.5,385.5 246.2,373.6 232.3,360.3" fill="#f66a6a" stroke="#fff" stroke-opacity=".95" stroke-width="1.1" stroke-linejoin="round"/>
<text x="233.1" y="376.1" fill="#fff" stroke="#fff" stroke-width=".2" font-size="7.7px">2</text>
<ellipse cx="221.5" cy="385.5" rx="11" ry="8" fill="#c8f9f9" stroke="#000" stroke-width="1.1"/>
<text x="221.5" y="388.8" fill="#000" stroke="#000" stroke-width=".3" textLength="9.8" lengthAdjust="spacingAndGlyphs">+5</text>
<polygon points="221.6,334.3 255.5,329.2 243.8,308.2" fill="#fc0000" stroke="#fff" stroke-opacity=".95" stroke-width="1.1" stroke-linejoin="round"/>
<text x="240.0" y="326.9" fill="#fff" stroke="#fff" stroke-width=".2" font-size="7.7px">4</text>
<ellipse cx="221.6" cy="334.3" rx="11" ry="8" fill="#c8f9f9" stroke="#000" stroke-width="1.1"/>
<text x="221.6" y="337.6" fill="#000" stroke="#000" stroke-width=".3" textLength="9.8" lengthAdjust="spacingAndGlyphs">+5</text>
<polygon points="223.5,284.0 243.6,265.3 226.4,256.7" fill="#f66a6a" stroke="#fff" stroke-opacity=".95" stroke-width="1.1" stroke-linejoin="round"/>
<text x="231.0" y="271.7" fill="#fff" stroke="#fff" stroke-width=".2" font-size="7.7px">2</text>
<ellipse cx="223.5" cy="284.0" rx="11" ry="8" fill="#ffffff" stroke="#000" stroke-width="1.1"/>
<text x="223.5" y="287.3" fill="#000" stroke="#000" stroke-width=".3" textLength="9.8" lengthAdjust="spacingAndGlyphs">+6</text>
<ellipse cx="226.4" cy="232.4" rx="11" ry="8" fill="#ffffff" stroke="#000" stroke-width="1.1"/>
<text x="226.4" y="235.7" fill="#000" stroke="#000" stroke-width=".3" textLength="9.8" lengthAdjust="spacingAndGlyphs">+6</text>
<ellipse cx="227.3" cy="181.0" rx="11" ry="8" fill="#ffffff" stroke="#000" stroke-width="1.1"/>
<text x="227.3" y="184.3" fill="#000" stroke="#000" stroke-width=".3" textLength="9.8" lengthAdjust="spacingAndGlyphs">+8</text>
<polygon points="229.0,29.0 269.7,23.0 255.7,-2.3" fill="#cc0000" stroke="#fff" stroke-opacity=".95" stroke-width="1.1" stroke-linejoin="round"/>
<text x="251.1" y="19.6" fill="#fff" stroke="#fff" stroke-width=".2" font-size="7.7px">6</text>
<ellipse cx="229.0" cy="29.0" rx="11" ry="8" fill="#ffffff" stroke="#000" stroke-width="1.1"/>
<text x="229.0" y="32.3" fill="#000" stroke="#000" stroke-width="0" font-weight="bold" textLength="14.7" lengthAdjust="spacingAndGlyphs">MER</text>
<polygon points="229.0,79.5 243.4,41.0 214.6,41.0" fill="#0864d0" stroke="#fff" stroke-opacity=".95" stroke-width="1.1" stroke-linejoin="round"/>
<text x="229.0" y="57.1" fill="#fff" stroke="#fff" stroke-width=".2" font-size="7.7px">6</text>
<ellipse cx="229.0" cy="79.5" rx="11" ry="8" fill="#ffffff" stroke="#000" stroke-width="1.1"/>
<text x="229.0" y="82.8" fill="#000" stroke="#000" stroke-width="0" font-weight="bold" textLength="14.7" lengthAdjust="spacingAndGlyphs">MER</text>
<polygon points="230.5,130.5 211.0,106.6 200.1,125.3" fill="#3391f7" stroke="#fff" stroke-opacity=".95" stroke-width="1.1" stroke-linejoin="round"/>
<text x="214.1" y="123.8" fill="#fff" stroke="#fff" stroke-width=".2" font-size="7.7px">3</text>
<ellipse cx="230.5" cy="130.5" rx="11" ry="8" fill="#ffffff" stroke="#000" stroke-width="1.1"/>
<text x="230.5" y="133.8" fill="#000" stroke="#000" stroke-width="0" font-weight="bold" textLength="14.7" lengthAdjust="spacingAndGlyphs">MER</text>
<polygon points="257.8,488.5 285.0,485.3 276.2,468.1" fill="#f66a6a" stroke="#fff" stroke-opacity=".95" stroke-width="1.1" stroke-linejoin="round"/>
<text x="272.7" y="483.6" fill="#fff" stroke="#fff" stroke-width=".2" font-size="7.7px">2</text>
<ellipse cx="257.8" cy="488.5" rx="11" ry="8" fill="#ffffff" stroke="#000" stroke-width="1.1"/>
<text x="257.8" y="491.8" fill="#000" stroke="#000" stroke-width=".3" textLength="9.8" lengthAdjust="spacingAndGlyphs">+9</text>
<polygon points="258.5,539.5 286.6,526.7 271.3,511.4" fill="#f93434" stroke="#fff" stroke-opacity=".95" stroke-width="1.1" stroke-linejoin="round"/>
<text x="271.9" y="528.9" fill="#fff" stroke="#fff" stroke-width=".2" font-size="7.7px">3</text>
<ellipse cx="258.5" cy="539.5" rx="11" ry="8" fill="#ffffff" stroke="#000" stroke-width="1.1"/>
<text x="258.5" y="542.8" fill="#000" stroke="#000" stroke-width=".3" textLength="9.8" lengthAdjust="spacingAndGlyphs">+9</text>
<polygon points="259.8,437.2 284.6,425.6 270.9,412.1" fill="#f66a6a" stroke="#fff" stroke-opacity=".95" stroke-width="1.1" stroke-linejoin="round"/>
<text x="271.5" y="428.0" fill="#fff" stroke="#fff" stroke-width=".2" font-size="7.7px">2</text>
<ellipse cx="259.8" cy="437.2" rx="11" ry="8" fill="#ffffff" stroke="#000" stroke-width="1.1"/>
<text x="259.8" y="440.6" fill="#000" stroke="#000" stroke-width=".3" textLength="9.8" lengthAdjust="spacingAndGlyphs">+7</text>
<ellipse cx="259.8" cy="589.5" rx="11" ry="8" fill="#ffffff" stroke="#000" stroke-width="1.1"/>
<text x="259.8" y="592.8" fill="#000" stroke="#000" stroke-width=".3" textLength="14.7" lengthAdjust="spacingAndGlyphs">+10</text>
<polygon points="260.6,335.0 288.4,321.5 272.7,306.6" fill="#f93434" stroke="#fff" stroke-opacity=".95" stroke-width="1.1" stroke-linejoin="round"/>
<text x="273.7" y="324.1" fill="#fff" stroke="#fff" stroke-width=".2" font-size="7.7px">3</text>
<ellipse cx="260.6" cy="335.0" rx="11" ry="8" fill="#c8f9f9" stroke="#000" stroke-width="1.1"/>
<text x="260.6" y="338.3" fill="#000" stroke="#000" stroke-width=".3" textLength="9.8" lengthAdjust="spacingAndGlyphs">+4</text>
<polygon points="261.5,285.5 283.6,264.0 264.0,254.7" fill="#f93434" stroke="#fff" stroke-opacity=".95" stroke-width="1.1" stroke-linejoin="round"/>
<text x="269.6" y="271.2" fill="#fff" stroke="#fff" stroke-width=".2" font-size="7.7px">3</text>
<ellipse cx="261.5" cy="285.5" rx="11" ry="8" fill="#ffffff" stroke="#000" stroke-width="1.1"/>
<text x="261.5" y="288.8" fill="#000" stroke="#000" stroke-width=".3" textLength="9.8" lengthAdjust="spacingAndGlyphs">+6</text>
<ellipse cx="262.0" cy="386.3" rx="11" ry="8" fill="#c8f9f9" stroke="#000" stroke-width="1.1"/>
<text x="262.0" y="389.6" fill="#000" stroke="#000" stroke-width=".3" textLength="9.8" lengthAdjust="spacingAndGlyphs">+3</text>
<polygon points="264.0,234.2 261.1,207.0 243.9,215.6" fill="#5ca6f4" stroke="#fff" stroke-opacity=".95" stroke-width="1.1" stroke-linejoin="round"/>
<text x="256.5" y="222.0" fill="#fff" stroke="#fff" stroke-width=".2" font-size="7.7px">2</text>
<ellipse cx="264.0" cy="234.2" rx="11" ry="8" fill="#ffffff" stroke="#000" stroke-width="1.1"/>
<text x="264.0" y="237.6" fill="#000" stroke="#000" stroke-width=".3" textLength="9.8" lengthAdjust="spacingAndGlyphs">+7</text>
<polygon points="265.0,80.5 278.2,45.2 251.8,45.2" fill="#0864d0" stroke="#fff" stroke-opacity=".95" stroke-width="1.1" stroke-linejoin="round"/>
<text x="265.0" y="60.2" fill="#fff" stroke="#fff" stroke-width=".2" font-size="7.7px">5</text>
<ellipse cx="265.0" cy="80.5" rx="11" ry="8" fill="#ffffff" stroke="#000" stroke-width="1.1"/>
<text x="265.0" y="83.8" fill="#000" stroke="#000" stroke-width="0" font-weight="bold" textLength="14.7" lengthAdjust="spacingAndGlyphs">MER</text>
<polygon points="265.2,180.0 238.1,183.7 247.2,200.7" fill="#5ca6f4" stroke="#fff" stroke-opacity=".95" stroke-width="1.1" stroke-linejoin="round"/>
<text x="250.4" y="190.8" fill="#fff" stroke="#fff" stroke-width=".2" font-size="7.7px">2</text>
<ellipse cx="265.2" cy="180.0" rx="11" ry="8" fill="#ffffff" stroke="#000" stroke-width="1.1"/>
<text x="265.2" y="183.3" fill="#000" stroke="#000" stroke-width=".3" textLength="9.8" lengthAdjust="spacingAndGlyphs">+7</text>
<polygon points="265.8,130.5 233.7,118.5 233.7,142.5" fill="#0880f8" stroke="#fff" stroke-opacity=".95" stroke-width="1.1" stroke-linejoin="round"/>
<text x="244.7" y="133.3" fill="#fff" stroke="#fff" stroke-width=".2" font-size="7.7px">4</text>
<ellipse cx="265.8" cy="130.5" rx="11" ry="8" fill="#ffffff" stroke="#000" stroke-width="1.1"/>
<text x="265.8" y="133.8" fill="#000" stroke="#000" stroke-width="0" font-weight="bold" textLength="14.7" lengthAdjust="spacingAndGlyphs">MER</text>
<polygon points="266.5,29.5 280.9,-9.0 252.1,-9.0" fill="#0864d0" stroke="#fff" stroke-opacity=".95" stroke-width="1.1" stroke-linejoin="round"/>
<text x="266.5" y="7.1" fill="#fff" stroke="#fff" stroke-width=".2" font-size="7.7px">6</text>
<ellipse cx="266.5" cy="29.5" rx="11" ry="8" fill="#ffffff" stroke="#000" stroke-width="1.1"/>
<text x="266.5" y="32.8" fill="#000" stroke="#000" stroke-width="0" font-weight="bold" textLength="14.7" lengthAdjust="spacingAndGlyphs">MER</text>
<polygon points="297.8,437.2 325.0,434.4 316.4,417.1" fill="#f66a6a" stroke="#fff" stroke-opacity=".95" stroke-width="1.1" stroke-linejoin="round"/>
<text x="312.8" y="432.5" fill="#fff" stroke="#fff" stroke-width=".2" font-size="7.7px">2</text>
<ellipse cx="297.8" cy="437.2" rx="11" ry="8" fill="#ffffff" stroke="#000" stroke-width="1.1"/>
<text x="297.8" y="440.6" fill="#000" stroke="#000" stroke-width=".3" textLength="9.8" lengthAdjust="spacingAndGlyphs">+8</text>
<polygon points="297.8,488.8 325.1,486.3 316.7,468.9" fill="#f66a6a" stroke="#fff" stroke-opacity=".95" stroke-width="1.1" stroke-linejoin="round"/>
<text x="312.9" y="484.3" fill="#fff" stroke="#fff" stroke-width=".2" font-size="7.7px">2</text>
<ellipse cx="297.8" cy="488.8" rx="11" ry="8" fill="#ffffff" stroke="#000" stroke-width="1.1"/>
<text x="297.8" y="492.1" fill="#000" stroke="#000" stroke-width=".3" textLength="9.8" lengthAdjust="spacingAndGlyphs">+6</text>
<polygon points="297.8,539.5 325.0,536.6 316.4,519.4" fill="#f66a6a" stroke="#fff" stroke-opacity=".95" stroke-width="1.1" stroke-linejoin="round"/>
<text x="312.8" y="534.8" fill="#fff" stroke="#fff" stroke-width=".2" font-size="7.7px">2</text>
<ellipse cx="297.8" cy="539.5" rx="11" ry="8" fill="#ffffff" stroke="#000" stroke-width="1.1"/>
<text x="297.8" y="542.8" fill="#000" stroke="#000" stroke-width=".3" textLength="9.8" lengthAdjust="spacingAndGlyphs">+7</text>
<polygon points="297.8,589.0 316.4,609.1 325.0,591.9" fill="#f66a6a" stroke="#fff" stroke-opacity=".95" stroke-width="1.1" stroke-linejoin="round"/>
<text x="312.8" y="599.3" fill="#fff" stroke="#fff" stroke-width=".2" font-size="7.7px">2</text>
<ellipse cx="297.8" cy="589.0" rx="11" ry="8" fill="#ffffff" stroke="#000" stroke-width="1.1"/>
<text x="297.8" y="592.3" fill="#000" stroke="#000" stroke-width=".3" textLength="9.8" lengthAdjust="spacingAndGlyphs">+8</text>
<polygon points="299.0,234.2 319.6,216.1 302.6,207.0" fill="#f66a6a" stroke="#fff" stroke-opacity=".95" stroke-width="1.1" stroke-linejoin="round"/>
<text x="306.9" y="222.2" fill="#fff" stroke="#fff" stroke-width=".2" font-size="7.7px">2</text>
<ellipse cx="299.0" cy="234.2" rx="11" ry="8" fill="#c8f9f9" stroke="#000" stroke-width="1.1"/>
<text x="299.0" y="237.6" fill="#000" stroke="#000" stroke-width=".3" textLength="9.8" lengthAdjust="spacingAndGlyphs">+5</text>
<polygon points="299.0,284.2 327.1,271.5 311.8,256.2" fill="#f93434" stroke="#fff" stroke-opacity=".95" stroke-width="1.1" stroke-linejoin="round"/>
<text x="312.4" y="273.7" fill="#fff" stroke="#fff" stroke-width=".2" font-size="7.7px">3</text>
<ellipse cx="299.0" cy="284.2" rx="11" ry="8" fill="#c8f9f9" stroke="#000" stroke-width="1.1"/>
<text x="299.0" y="287.6" fill="#000" stroke="#000" stroke-width=".3" textLength="9.8" lengthAdjust="spacingAndGlyphs">+5</text>
<polygon points="299.7,386.5 324.6,374.9 310.8,361.4" fill="#f66a6a" stroke="#fff" stroke-opacity=".95" stroke-width="1.1" stroke-linejoin="round"/>
<text x="311.5" y="377.3" fill="#fff" stroke="#fff" stroke-width=".2" font-size="7.7px">2</text>
<ellipse cx="299.7" cy="386.5" rx="11" ry="8" fill="#ffffff" stroke="#000" stroke-width="1.1"/>
<text x="299.7" y="389.8" fill="#000" stroke="#000" stroke-width=".3" textLength="9.8" lengthAdjust="spacingAndGlyphs">+7</text>
<ellipse cx="301.3" cy="335.3" rx="11" ry="8" fill="#c8f9f9" stroke="#000" stroke-width="1.1"/>
<text x="301.3" y="338.6" fill="#000" stroke="#000" stroke-width=".3" textLength="9.8" lengthAdjust="spacingAndGlyphs">+5</text>
<polygon points="301.5,29.5 315.9,-9.0 287.1,-9.0" fill="#0864d0" stroke="#fff" stroke-opacity=".95" stroke-width="1.1" stroke-linejoin="round"/>
<text x="301.5" y="7.1" fill="#fff" stroke="#fff" stroke-width=".2" font-size="7.7px">6</text>
<ellipse cx="301.5" cy="29.5" rx="11" ry="8" fill="#ffffff" stroke="#000" stroke-width="1.1"/>
<text x="301.5" y="32.8" fill="#000" stroke="#000" stroke-width="0" font-weight="bold" textLength="14.7" lengthAdjust="spacingAndGlyphs">MER</text>
<polygon points="301.5,194.2 275.8,184.6 275.8,203.9" fill="#5ca6f4" stroke="#fff" stroke-opacity=".95" stroke-width="1.1" stroke-linejoin="round"/>
<text x="284.7" y="197.1" fill="#fff" stroke="#fff" stroke-width=".2" font-size="7.7px">2</text>
<ellipse cx="301.5" cy="194.2" rx="11" ry="8" fill="#c8f9f9" stroke="#000" stroke-width="1.1"/>
<text x="301.5" y="197.6" fill="#000" stroke="#000" stroke-width=".3" textLength="9.8" lengthAdjust="spacingAndGlyphs">+2</text>
<polygon points="302.0,80.5 286.7,46.0 267.8,64.6" fill="#0864d0" stroke="#fff" stroke-opacity=".95" stroke-width="1.1" stroke-linejoin="round"/>
<text x="285.8" y="66.8" fill="#fff" stroke="#fff" stroke-width=".2" font-size="7.7px">5</text>
<ellipse cx="302.0" cy="80.5" rx="11" ry="8" fill="#ffffff" stroke="#000" stroke-width="1.1"/>
<text x="302.0" y="83.8" fill="#000" stroke="#000" stroke-width="0" font-weight="bold" textLength="14.7" lengthAdjust="spacingAndGlyphs">MER</text>
<polygon points="303.5,131.0 278.2,103.1 266.1,126.6" fill="#0864d0" stroke="#fff" stroke-opacity=".95" stroke-width="1.1" stroke-linejoin="round"/>
<text x="283.0" y="123.2" fill="#fff" stroke="#fff" stroke-width=".2" font-size="7.7px">5</text>
<ellipse cx="303.5" cy="131.0" rx="11" ry="8" fill="#ffffff" stroke="#000" stroke-width="1.1"/>
<text x="303.5" y="134.3" fill="#000" stroke="#000" stroke-width="0" font-weight="bold" textLength="14.7" lengthAdjust="spacingAndGlyphs">MER</text>
<polygon points="336.5,231.8 353.0,253.7 363.4,237.4" fill="#f66a6a" stroke="#fff" stroke-opacity=".95" stroke-width="1.1" stroke-linejoin="round"/>
<text x="350.7" y="243.6" fill="#fff" stroke="#fff" stroke-width=".2" font-size="7.7px">2</text>
<ellipse cx="336.5" cy="231.8" rx="11" ry="8" fill="#c8f9f9" stroke="#000" stroke-width="1.1"/>
<text x="336.5" y="235.1" fill="#000" stroke="#000" stroke-width=".3" textLength="9.8" lengthAdjust="spacingAndGlyphs">+4</text>
<polygon points="338.2,387.2 357.9,368.1 340.5,359.8" fill="#f66a6a" stroke="#fff" stroke-opacity=".95" stroke-width="1.1" stroke-linejoin="round"/>
<text x="345.4" y="374.8" fill="#fff" stroke="#fff" stroke-width=".2" font-size="7.7px">2</text>
<ellipse cx="338.2" cy="387.2" rx="11" ry="8" fill="#ffffff" stroke="#000" stroke-width="1.1"/>
<text x="338.2" y="390.5" fill="#000" stroke="#000" stroke-width=".3" textLength="14.7" lengthAdjust="spacingAndGlyphs">+10</text>
<polygon points="338.5,434.8 340.5,462.1 358.0,454.1" fill="#f66a6a" stroke="#fff" stroke-opacity=".95" stroke-width="1.1" stroke-linejoin="round"/>
<text x="345.5" y="452.8" fill="#fff" stroke="#fff" stroke-width=".2" font-size="7.7px">2</text>
<ellipse cx="338.5" cy="434.8" rx="11" ry="8" fill="#ffffff" stroke="#000" stroke-width="1.1"/>
<text x="338.5" y="438.1" fill="#000" stroke="#000" stroke-width=".3" textLength="9.8" lengthAdjust="spacingAndGlyphs">+9</text>
<polygon points="338.7,30.6 337.9,-10.5 311.1,0.2" fill="#0864d0" stroke="#fff" stroke-opacity=".95" stroke-width="1.1" stroke-linejoin="round"/>
<text x="329.4" y="10.0" fill="#fff" stroke="#fff" stroke-width=".2" font-size="7.7px">6</text>
<ellipse cx="338.7" cy="30.6" rx="11" ry="8" fill="#ffffff" stroke="#000" stroke-width="1.1"/>
<text x="338.7" y="33.9" fill="#000" stroke="#000" stroke-width="0" font-weight="bold" textLength="14.7" lengthAdjust="spacingAndGlyphs">MER</text>
<polygon points="339.0,587.8 340.3,615.2 358.0,607.6" fill="#f66a6a" stroke="#fff" stroke-opacity=".95" stroke-width="1.1" stroke-linejoin="round"/>
<text x="345.6" y="606.0" fill="#fff" stroke="#fff" stroke-width=".2" font-size="7.7px">2</text>
<ellipse cx="339.0" cy="587.8" rx="11" ry="8" fill="#c8f9f9" stroke="#000" stroke-width="1.1"/>
<text x="339.0" y="591.0" fill="#000" stroke="#000" stroke-width=".3" textLength="9.8" lengthAdjust="spacingAndGlyphs">+5</text>
<polygon points="339.5,80.5 312.3,49.6 298.7,75.1" fill="#0864d0" stroke="#fff" stroke-opacity=".95" stroke-width="1.1" stroke-linejoin="round"/>
<text x="317.3" y="71.4" fill="#fff" stroke="#fff" stroke-width=".2" font-size="7.7px">6</text>
<ellipse cx="339.5" cy="80.5" rx="11" ry="8" fill="#ffffff" stroke="#000" stroke-width="1.1"/>
<text x="339.5" y="83.8" fill="#000" stroke="#000" stroke-width="0" font-weight="bold" textLength="14.7" lengthAdjust="spacingAndGlyphs">MER</text>
<polygon points="339.5,131.0 314.2,103.1 302.1,126.6" fill="#0864d0" stroke="#fff" stroke-opacity=".95" stroke-width="1.1" stroke-linejoin="round"/>
<text x="319.0" y="123.2" fill="#fff" stroke="#fff" stroke-width=".2" font-size="7.7px">5</text>
<ellipse cx="339.5" cy="131.0" rx="11" ry="8" fill="#ffffff" stroke="#000" stroke-width="1.1"/>
<text x="339.5" y="134.3" fill="#000" stroke="#000" stroke-width="0" font-weight="bold" textLength="14.7" lengthAdjust="spacingAndGlyphs">MER</text>
<polygon points="339.5,187.5 313.8,177.9 313.8,197.1" fill="#5ca6f4" stroke="#fff" stroke-opacity=".95" stroke-width="1.1" stroke-linejoin="round"/>
<text x="322.7" y="190.3" fill="#fff" stroke="#fff" stroke-width=".2" font-size="7.7px">2</text>
<ellipse cx="339.5" cy="187.5" rx="11" ry="8" fill="#ffffff" stroke="#000" stroke-width="1.1"/>
<text x="339.5" y="190.8" fill="#000" stroke="#000" stroke-width=".3" textLength="9.8" lengthAdjust="spacingAndGlyphs">+7</text>
<ellipse cx="339.8" cy="335.8" rx="11" ry="8" fill="#c8f9f9" stroke="#000" stroke-width="1.1"/>
<text x="339.8" y="339.1" fill="#000" stroke="#000" stroke-width=".3" textLength="9.8" lengthAdjust="spacingAndGlyphs">+1</text>
<polygon points="340.2,284.2 321.2,264.5 312.9,281.9" fill="#5ca6f4" stroke="#fff" stroke-opacity=".95" stroke-width="1.1" stroke-linejoin="round"/>
<text x="325.1" y="279.8" fill="#fff" stroke="#fff" stroke-width=".2" font-size="7.7px">2</text>
<ellipse cx="340.2" cy="284.2" rx="11" ry="8" fill="#c8f9f9" stroke="#000" stroke-width="1.1"/>
<text x="340.2" y="287.6" fill="#000" stroke="#000" stroke-width=".3" textLength="9.8" lengthAdjust="spacingAndGlyphs">+5</text>
<ellipse cx="340.2" cy="488.8" rx="11" ry="8" fill="#ffffff" stroke="#000" stroke-width="1.1"/>
<text x="340.2" y="492.1" fill="#000" stroke="#000" stroke-width=".3" textLength="9.8" lengthAdjust="spacingAndGlyphs">+6</text>
<ellipse cx="340.2" cy="539.5" rx="11" ry="8" fill="#ffffff" stroke="#000" stroke-width="1.1"/>
<text x="340.2" y="542.8" fill="#000" stroke="#000" stroke-width=".3" textLength="9.8" lengthAdjust="spacingAndGlyphs">+7</text>
<polygon points="373.4,30.6 372.6,-10.5 345.8,0.2" fill="#0864d0" stroke="#fff" stroke-opacity=".95" stroke-width="1.1" stroke-linejoin="round"/>
<text x="364.1" y="10.0" fill="#fff" stroke="#fff" stroke-width=".2" font-size="7.7px">6</text>
<ellipse cx="373.4" cy="30.6" rx="11" ry="8" fill="#ffffff" stroke="#000" stroke-width="1.1"/>
<text x="373.4" y="33.9" fill="#000" stroke="#000" stroke-width="0" font-weight="bold" textLength="14.7" lengthAdjust="spacingAndGlyphs">MER</text>
<polygon points="375.4,80.3 348.2,49.4 334.6,74.9" fill="#0864d0" stroke="#fff" stroke-opacity=".95" stroke-width="1.1" stroke-linejoin="round"/>
<text x="353.2" y="71.2" fill="#fff" stroke="#fff" stroke-width=".2" font-size="7.7px">6</text>
<ellipse cx="375.4" cy="80.3" rx="11" ry="8" fill="#ffffff" stroke="#000" stroke-width="1.1"/>
<text x="375.4" y="83.6" fill="#000" stroke="#000" stroke-width="0" font-weight="bold" textLength="14.7" lengthAdjust="spacingAndGlyphs">MER</text>
<polygon points="376.7,131.0 351.6,102.9 339.3,126.3" fill="#0864d0" stroke="#fff" stroke-opacity=".95" stroke-width="1.1" stroke-linejoin="round"/>
<text x="356.2" y="123.1" fill="#fff" stroke="#fff" stroke-width=".2" font-size="7.7px">5</text>
<ellipse cx="376.7" cy="131.0" rx="11" ry="8" fill="#ffffff" stroke="#000" stroke-width="1.1"/>
<text x="376.7" y="134.3" fill="#000" stroke="#000" stroke-width="0" font-weight="bold" textLength="14.7" lengthAdjust="spacingAndGlyphs">MER</text>
<polygon points="376.8,231.8 349.4,234.4 357.9,251.7" fill="#5ca6f4" stroke="#fff" stroke-opacity=".95" stroke-width="1.1" stroke-linejoin="round"/>
<text x="361.6" y="242.0" fill="#fff" stroke="#fff" stroke-width=".2" font-size="7.7px">2</text>
<ellipse cx="376.8" cy="231.8" rx="11" ry="8" fill="#c8f9f9" stroke="#000" stroke-width="1.1"/>
<text x="376.8" y="235.1" fill="#000" stroke="#000" stroke-width=".3" textLength="9.8" lengthAdjust="spacingAndGlyphs">+3</text>
<polygon points="376.8,385.5 402.4,395.1 402.4,375.9" fill="#f66a6a" stroke="#fff" stroke-opacity=".95" stroke-width="1.1" stroke-linejoin="round"/>
<text x="393.6" y="388.3" fill="#fff" stroke="#fff" stroke-width=".2" font-size="7.7px">2</text>
<ellipse cx="376.8" cy="385.5" rx="11" ry="8" fill="#ffffff" stroke="#000" stroke-width="1.1"/>
<text x="376.8" y="388.8" fill="#000" stroke="#000" stroke-width=".3" textLength="9.8" lengthAdjust="spacingAndGlyphs">+8</text>
<polygon points="378.0,186.0 350.7,189.2 359.6,206.3" fill="#5ca6f4" stroke="#fff" stroke-opacity=".95" stroke-width="1.1" stroke-linejoin="round"/>
<text x="363.0" y="196.5" fill="#fff" stroke="#fff" stroke-width=".2" font-size="7.7px">2</text>
<ellipse cx="378.0" cy="186.0" rx="11" ry="8" fill="#ffffff" stroke="#000" stroke-width="1.1"/>
<text x="378.0" y="189.3" fill="#000" stroke="#000" stroke-width=".3" textLength="9.8" lengthAdjust="spacingAndGlyphs">+9</text>
<polygon points="378.0,284.2 358.8,264.6 350.6,282.1" fill="#5ca6f4" stroke="#fff" stroke-opacity=".95" stroke-width="1.1" stroke-linejoin="round"/>
<text x="362.8" y="279.9" fill="#fff" stroke="#fff" stroke-width=".2" font-size="7.7px">2</text>
<ellipse cx="378.0" cy="284.2" rx="11" ry="8" fill="#c8f9f9" stroke="#000" stroke-width="1.1"/>
<text x="378.0" y="287.6" fill="#000" stroke="#000" stroke-width=".3" textLength="9.8" lengthAdjust="spacingAndGlyphs">+1</text>
<ellipse cx="378.8" cy="335.4" rx="11" ry="8" fill="#c8f9f9" stroke="#000" stroke-width="1.1"/>
<text x="378.8" y="338.7" fill="#000" stroke="#000" stroke-width=".3" textLength="9.8" lengthAdjust="spacingAndGlyphs">+5</text>
<polygon points="380.2,438.4 377.0,411.1 359.8,420.0" fill="#5ca6f4" stroke="#fff" stroke-opacity=".95" stroke-width="1.1" stroke-linejoin="round"/>
<text x="372.5" y="426.2" fill="#fff" stroke="#fff" stroke-width=".2" font-size="7.7px">2</text>
<ellipse cx="380.2" cy="438.4" rx="11" ry="8" fill="#ffffff" stroke="#000" stroke-width="1.1"/>
<text x="380.2" y="441.7" fill="#000" stroke="#000" stroke-width=".3" textLength="14.7" lengthAdjust="spacingAndGlyphs">+12</text>
<ellipse cx="380.5" cy="488.8" rx="11" ry="8" fill="#ffffff" stroke="#000" stroke-width="1.1"/>
<text x="380.5" y="492.1" fill="#000" stroke="#000" stroke-width=".3" textLength="9.8" lengthAdjust="spacingAndGlyphs">+8</text>
<ellipse cx="380.5" cy="539.5" rx="11" ry="8" fill="#ffffff" stroke="#000" stroke-width="1.1"/>
<text x="380.5" y="542.8" fill="#000" stroke="#000" stroke-width=".3" textLength="9.8" lengthAdjust="spacingAndGlyphs">+7</text>
<ellipse cx="381.2" cy="589.5" rx="11" ry="8" fill="#ffffff" stroke="#000" stroke-width="1.1"/>
<text x="381.2" y="592.8" fill="#000" stroke="#000" stroke-width=".3" textLength="9.8" lengthAdjust="spacingAndGlyphs">+6</text>
<polygon points="409.6,29.6 408.8,-11.5 382.0,-0.8" fill="#0864d0" stroke="#fff" stroke-opacity=".95" stroke-width="1.1" stroke-linejoin="round"/>
<text x="400.3" y="9.0" fill="#fff" stroke="#fff" stroke-width=".2" font-size="7.7px">6</text>
<ellipse cx="409.6" cy="29.6" rx="11" ry="8" fill="#ffffff" stroke="#000" stroke-width="1.1"/>
<text x="409.6" y="32.9" fill="#000" stroke="#000" stroke-width="0" font-weight="bold" textLength="14.7" lengthAdjust="spacingAndGlyphs">MER</text>
<polygon points="411.2,79.3 383.9,48.5 370.4,74.1" fill="#0864d0" stroke="#fff" stroke-opacity=".95" stroke-width="1.1" stroke-linejoin="round"/>
<text x="388.9" y="70.3" fill="#fff" stroke="#fff" stroke-width=".2" font-size="7.7px">6</text>
<ellipse cx="411.2" cy="79.3" rx="11" ry="8" fill="#ffffff" stroke="#000" stroke-width="1.1"/>
<text x="411.2" y="82.6" fill="#000" stroke="#000" stroke-width="0" font-weight="bold" textLength="14.7" lengthAdjust="spacingAndGlyphs">MER</text>
<polygon points="412.0,129.6 376.7,116.4 376.7,142.8" fill="#0864d0" stroke="#fff" stroke-opacity=".95" stroke-width="1.1" stroke-linejoin="round"/>
<text x="388.9" y="132.4" fill="#fff" stroke="#fff" stroke-width=".2" font-size="7.7px">5</text>
<ellipse cx="412.0" cy="129.6" rx="11" ry="8" fill="#ffffff" stroke="#000" stroke-width="1.1"/>
<text x="412.0" y="132.9" fill="#000" stroke="#000" stroke-width="0" font-weight="bold" textLength="14.7" lengthAdjust="spacingAndGlyphs">MER</text>
<ellipse cx="413.8" cy="200.5" rx="11" ry="8" fill="#c8f9f9" stroke="#000" stroke-width="1.1"/>
<text x="413.8" y="203.8" fill="#000" stroke="#000" stroke-width=".3" textLength="9.8" lengthAdjust="spacingAndGlyphs">+3</text>
<polygon points="415.5,232.5 392.6,207.0 381.5,228.4" fill="#0880f8" stroke="#fff" stroke-opacity=".95" stroke-width="1.1" stroke-linejoin="round"/>
<text x="396.8" y="225.6" fill="#fff" stroke="#fff" stroke-width=".2" font-size="7.7px">4</text>
<ellipse cx="415.5" cy="232.5" rx="11" ry="8" fill="#c8f9f9" stroke="#000" stroke-width="1.1"/>
<text x="415.5" y="235.8" fill="#000" stroke="#000" stroke-width=".3" textLength="9.8" lengthAdjust="spacingAndGlyphs">+4</text>
<polygon points="415.5,284.2 412.6,257.0 395.4,265.6" fill="#5ca6f4" stroke="#fff" stroke-opacity=".95" stroke-width="1.1" stroke-linejoin="round"/>
<text x="408.0" y="272.0" fill="#fff" stroke="#fff" stroke-width=".2" font-size="7.7px">2</text>
<ellipse cx="415.5" cy="284.2" rx="10.9" ry="7.8" fill="#4a6aee"/>
<text x="415.5" y="287.6" fill="#fff" stroke="#fff" stroke-width=".3" textLength="4.9" lengthAdjust="spacingAndGlyphs">0</text>
<polygon points="416.3,334.8 403.2,310.7 390.6,325.3" fill="#5ca6f4" stroke="#fff" stroke-opacity=".95" stroke-width="1.1" stroke-linejoin="round"/>
<text x="403.6" y="326.6" fill="#fff" stroke="#fff" stroke-width=".2" font-size="7.7px">2</text>
<ellipse cx="416.3" cy="334.8" rx="10.9" ry="7.8" fill="#4a6aee"/>
<text x="416.3" y="338.1" fill="#fff" stroke="#fff" stroke-width=".3" textLength="4.9" lengthAdjust="spacingAndGlyphs">0</text>
<polygon points="417.2,385.5 405.6,360.6 392.1,374.4" fill="#5ca6f4" stroke="#fff" stroke-opacity=".95" stroke-width="1.1" stroke-linejoin="round"/>
<text x="405.2" y="376.5" fill="#fff" stroke="#fff" stroke-width=".2" font-size="7.7px">2</text>
<ellipse cx="417.2" cy="385.5" rx="11" ry="8" fill="#ffffff" stroke="#000" stroke-width="1.1"/>
<text x="417.2" y="388.8" fill="#000" stroke="#000" stroke-width=".3" textLength="9.8" lengthAdjust="spacingAndGlyphs">+6</text>
<polygon points="419.7,437.5 400.8,417.6 392.4,435.0" fill="#5ca6f4" stroke="#fff" stroke-opacity=".95" stroke-width="1.1" stroke-linejoin="round"/>
<text x="404.5" y="433.0" fill="#fff" stroke="#fff" stroke-width=".2" font-size="7.7px">2</text>
<ellipse cx="419.7" cy="437.5" rx="11" ry="8" fill="#ffffff" stroke="#000" stroke-width="1.1"/>
<text x="419.7" y="440.8" fill="#000" stroke="#000" stroke-width=".3" textLength="14.7" lengthAdjust="spacingAndGlyphs">+12</text>
<ellipse cx="420.5" cy="488.0" rx="11" ry="8" fill="#ffffff" stroke="#000" stroke-width="1.1"/>
<text x="420.5" y="491.3" fill="#000" stroke="#000" stroke-width=".3" textLength="14.7" lengthAdjust="spacingAndGlyphs">+10</text>
<ellipse cx="421.2" cy="538.5" rx="11" ry="8" fill="#ffffff" stroke="#000" stroke-width="1.1"/>
<text x="421.2" y="541.8" fill="#000" stroke="#000" stroke-width=".3" textLength="14.7" lengthAdjust="spacingAndGlyphs">+13</text>
<ellipse cx="422.5" cy="589.5" rx="11" ry="8" fill="#ffffff" stroke="#000" stroke-width="1.1"/>
<text x="422.5" y="592.8" fill="#000" stroke="#000" stroke-width=".3" textLength="14.7" lengthAdjust="spacingAndGlyphs">+14</text>
<polygon points="449.8,28.4 447.8,-9.3 423.5,1.3" fill="#0864d0" stroke="#fff" stroke-opacity=".95" stroke-width="1.1" stroke-linejoin="round"/>
<text x="440.5" y="10.0" fill="#fff" stroke="#fff" stroke-width=".2" font-size="7.7px">5</text>
<ellipse cx="449.8" cy="28.4" rx="11" ry="8" fill="#ffffff" stroke="#000" stroke-width="1.1"/>
<text x="449.8" y="31.7" fill="#000" stroke="#000" stroke-width=".3" textLength="14.7" lengthAdjust="spacingAndGlyphs">+10</text>
<polygon points="451.8,77.5 419.6,65.5 419.6,89.5" fill="#0880f8" stroke="#fff" stroke-opacity=".95" stroke-width="1.1" stroke-linejoin="round"/>
<text x="430.7" y="80.3" fill="#fff" stroke="#fff" stroke-width=".2" font-size="7.7px">4</text>
<ellipse cx="451.8" cy="77.5" rx="11" ry="8" fill="#ffffff" stroke="#000" stroke-width="1.1"/>
<text x="451.8" y="80.8" fill="#000" stroke="#000" stroke-width=".3" textLength="9.8" lengthAdjust="spacingAndGlyphs">+9</text>
<polygon points="451.8,178.5 424.5,181.5 433.2,198.7" fill="#5ca6f4" stroke="#fff" stroke-opacity=".95" stroke-width="1.1" stroke-linejoin="round"/>
<text x="436.7" y="188.9" fill="#fff" stroke="#fff" stroke-width=".2" font-size="7.7px">2</text>
<ellipse cx="451.8" cy="178.5" rx="11" ry="8" fill="#ffffff" stroke="#000" stroke-width="1.1"/>
<text x="451.8" y="181.8" fill="#000" stroke="#000" stroke-width=".3" textLength="9.8" lengthAdjust="spacingAndGlyphs">+7</text>
<polygon points="451.8,232.5 447.8,201.9 428.7,212.0" fill="#3391f7" stroke="#fff" stroke-opacity=".95" stroke-width="1.1" stroke-linejoin="round"/>
<text x="442.9" y="218.6" fill="#fff" stroke="#fff" stroke-width=".2" font-size="7.7px">3</text>
<ellipse cx="451.8" cy="232.5" rx="11" ry="8" fill="#c8f9f9" stroke="#000" stroke-width="1.1"/>
<text x="451.8" y="235.8" fill="#000" stroke="#000" stroke-width=".3" textLength="9.8" lengthAdjust="spacingAndGlyphs">+4</text>
<polygon points="453.0,282.5 438.2,247.8 419.0,266.1" fill="#0864d0" stroke="#fff" stroke-opacity=".95" stroke-width="1.1" stroke-linejoin="round"/>
<text x="437.0" y="268.6" fill="#fff" stroke="#fff" stroke-width=".2" font-size="7.7px">5</text>
<ellipse cx="453.0" cy="282.5" rx="11" ry="8" fill="#ffffff" stroke="#000" stroke-width="1.1"/>
<text x="453.0" y="285.8" fill="#000" stroke="#000" stroke-width=".3" textLength="9.8" lengthAdjust="spacingAndGlyphs">+6</text>
<polygon points="454.2,127.5 423.6,130.7 433.2,150.1" fill="#3391f7" stroke="#fff" stroke-opacity=".95" stroke-width="1.1" stroke-linejoin="round"/>
<text x="437.3" y="138.8" fill="#fff" stroke="#fff" stroke-width=".2" font-size="7.7px">3</text>
<ellipse cx="454.2" cy="127.5" rx="11" ry="8" fill="#ffffff" stroke="#000" stroke-width="1.1"/>
<text x="454.2" y="130.8" fill="#000" stroke="#000" stroke-width=".3" textLength="9.8" lengthAdjust="spacingAndGlyphs">+6</text>
<polygon points="454.2,382.2 465.6,407.2 479.2,393.6" fill="#f66a6a" stroke="#fff" stroke-opacity=".95" stroke-width="1.1" stroke-linejoin="round"/>
<text x="466.2" y="397.0" fill="#fff" stroke="#fff" stroke-width=".2" font-size="7.7px">2</text>
<ellipse cx="454.2" cy="382.2" rx="11" ry="8" fill="#c8f9f9" stroke="#000" stroke-width="1.1"/>
<text x="454.2" y="385.6" fill="#000" stroke="#000" stroke-width=".3" textLength="9.8" lengthAdjust="spacingAndGlyphs">+1</text>
<polygon points="456.8,332.5 429.4,335.2 437.9,352.5" fill="#5ca6f4" stroke="#fff" stroke-opacity=".95" stroke-width="1.1" stroke-linejoin="round"/>
<text x="441.6" y="342.7" fill="#fff" stroke="#fff" stroke-width=".2" font-size="7.7px">2</text>
<ellipse cx="456.8" cy="332.5" rx="11" ry="8" fill="#c8f9f9" stroke="#000" stroke-width="1.1"/>
<text x="456.8" y="335.8" fill="#000" stroke="#000" stroke-width=".3" textLength="9.8" lengthAdjust="spacingAndGlyphs">+2</text>
<polygon points="458.8,434.2 433.1,424.6 433.1,443.9" fill="#5ca6f4" stroke="#fff" stroke-opacity=".95" stroke-width="1.1" stroke-linejoin="round"/>
<text x="441.9" y="437.1" fill="#fff" stroke="#fff" stroke-width=".2" font-size="7.7px">2</text>
<ellipse cx="458.8" cy="434.2" rx="11" ry="8" fill="#ffffff" stroke="#000" stroke-width="1.1"/>
<text x="458.8" y="437.6" fill="#000" stroke="#000" stroke-width=".3" textLength="14.7" lengthAdjust="spacingAndGlyphs">+12</text>
<polygon points="460.5,486.8 441.7,466.8 433.2,484.1" fill="#5ca6f4" stroke="#fff" stroke-opacity=".95" stroke-width="1.1" stroke-linejoin="round"/>
<text x="445.4" y="482.1" fill="#fff" stroke="#fff" stroke-width=".2" font-size="7.7px">2</text>
<ellipse cx="460.5" cy="486.8" rx="11" ry="8" fill="#ffffff" stroke="#000" stroke-width="1.1"/>
<text x="460.5" y="490.1" fill="#000" stroke="#000" stroke-width=".3" textLength="14.7" lengthAdjust="spacingAndGlyphs">+12</text>
<ellipse cx="461.2" cy="537.8" rx="11" ry="8" fill="#ffffff" stroke="#000" stroke-width="1.1"/>
<text x="461.2" y="541.0" fill="#000" stroke="#000" stroke-width=".3" textLength="14.7" lengthAdjust="spacingAndGlyphs">+17</text>
<ellipse cx="463.5" cy="589.0" rx="11" ry="8" fill="#ffffff" stroke="#000" stroke-width="1.1"/>
<text x="463.5" y="592.3" fill="#000" stroke="#000" stroke-width="0" font-weight="bold" textLength="14.7" lengthAdjust="spacingAndGlyphs">MER</text>
<polygon points="480.5,27.0 476.9,-3.7 457.6,6.3" fill="#3391f7" stroke="#fff" stroke-opacity=".95" stroke-width="1.1" stroke-linejoin="round"/>
<text x="471.8" y="13.0" fill="#fff" stroke="#fff" stroke-width=".2" font-size="7.7px">3</text>
<ellipse cx="480.5" cy="27.0" rx="11" ry="8" fill="#c8f9f9" stroke="#000" stroke-width="1.1"/>
<text x="480.5" y="30.3" fill="#000" stroke="#000" stroke-width=".3" textLength="9.8" lengthAdjust="spacingAndGlyphs">+5</text>
<polygon points="481.8,75.5 453.8,88.5 469.2,103.7" fill="#3391f7" stroke="#fff" stroke-opacity=".95" stroke-width="1.1" stroke-linejoin="round"/>
<text x="468.5" y="91.8" fill="#fff" stroke="#fff" stroke-width=".2" font-size="7.7px">3</text>
<ellipse cx="481.8" cy="75.5" rx="11" ry="8" fill="#ffffff" stroke="#000" stroke-width="1.1"/>
<text x="481.8" y="78.8" fill="#000" stroke="#000" stroke-width=".3" textLength="9.8" lengthAdjust="spacingAndGlyphs">+6</text>
<polygon points="485.5,126.2 457.4,139.0 472.7,154.3" fill="#3391f7" stroke="#fff" stroke-opacity=".95" stroke-width="1.1" stroke-linejoin="round"/>
<text x="472.1" y="142.4" fill="#fff" stroke="#fff" stroke-width=".2" font-size="7.7px">3</text>
<ellipse cx="485.5" cy="126.2" rx="11" ry="8" fill="#c8f9f9" stroke="#000" stroke-width="1.1"/>
<text x="485.5" y="129.6" fill="#000" stroke="#000" stroke-width=".3" textLength="9.8" lengthAdjust="spacingAndGlyphs">+4</text>
<polygon points="488.0,178.5 462.3,168.9 462.3,188.1" fill="#5ca6f4" stroke="#fff" stroke-opacity=".95" stroke-width="1.1" stroke-linejoin="round"/>
<text x="471.2" y="181.3" fill="#fff" stroke="#fff" stroke-width=".2" font-size="7.7px">2</text>
<ellipse cx="488.0" cy="178.5" rx="11" ry="8" fill="#ffffff" stroke="#000" stroke-width="1.1"/>
<text x="488.0" y="181.8" fill="#000" stroke="#000" stroke-width=".3" textLength="9.8" lengthAdjust="spacingAndGlyphs">+7</text>
<polygon points="488.0,228.5 478.4,254.2 497.6,254.2" fill="#5ca6f4" stroke="#fff" stroke-opacity=".95" stroke-width="1.1" stroke-linejoin="round"/>
<text x="488.0" y="248.1" fill="#fff" stroke="#fff" stroke-width=".2" font-size="7.7px">2</text>
<ellipse cx="488.0" cy="228.5" rx="11" ry="8" fill="#c8f9f9" stroke="#000" stroke-width="1.1"/>
<text x="488.0" y="231.8" fill="#000" stroke="#000" stroke-width=".3" textLength="9.8" lengthAdjust="spacingAndGlyphs">+1</text>
<polygon points="492.2,280.5 472.2,257.1 461.7,276.1" fill="#3391f7" stroke="#fff" stroke-opacity=".95" stroke-width="1.1" stroke-linejoin="round"/>
<text x="475.7" y="274.2" fill="#fff" stroke="#fff" stroke-width=".2" font-size="7.7px">3</text>
<ellipse cx="492.2" cy="280.5" rx="11" ry="8" fill="#c8f9f9" stroke="#000" stroke-width="1.1"/>
<text x="492.2" y="283.8" fill="#000" stroke="#000" stroke-width=".3" textLength="9.8" lengthAdjust="spacingAndGlyphs">+5</text>
<polygon points="494.2,331.8 471.3,306.3 460.2,327.6" fill="#0880f8" stroke="#fff" stroke-opacity=".95" stroke-width="1.1" stroke-linejoin="round"/>
<text x="475.6" y="324.9" fill="#fff" stroke="#fff" stroke-width=".2" font-size="7.7px">4</text>
<ellipse cx="494.2" cy="331.8" rx="11" ry="8" fill="#ffffff" stroke="#000" stroke-width="1.1"/>
<text x="494.2" y="335.1" fill="#000" stroke="#000" stroke-width=".3" textLength="9.8" lengthAdjust="spacingAndGlyphs">+7</text>
<polygon points="496.0,381.0 468.6,382.8 476.5,400.4" fill="#5ca6f4" stroke="#fff" stroke-opacity=".95" stroke-width="1.1" stroke-linejoin="round"/>
<text x="480.7" y="390.7" fill="#fff" stroke="#fff" stroke-width=".2" font-size="7.7px">2</text>
<ellipse cx="496.0" cy="381.0" rx="11" ry="8" fill="#ffffff" stroke="#000" stroke-width="1.1"/>
<text x="496.0" y="384.3" fill="#000" stroke="#000" stroke-width=".3" textLength="9.8" lengthAdjust="spacingAndGlyphs">+6</text>
<ellipse cx="497.2" cy="433.5" rx="11" ry="8" fill="#ffffff" stroke="#000" stroke-width="1.1"/>
<text x="497.2" y="436.8" fill="#000" stroke="#000" stroke-width=".3" textLength="14.7" lengthAdjust="spacingAndGlyphs">+14</text>
<polygon points="499.6,481.2 480.1,500.5 497.6,508.6" fill="#5ca6f4" stroke="#fff" stroke-opacity=".95" stroke-width="1.1" stroke-linejoin="round"/>
<text x="492.5" y="499.3" fill="#fff" stroke="#fff" stroke-width=".2" font-size="7.7px">2</text>
<ellipse cx="499.6" cy="481.2" rx="11" ry="8" fill="#ffffff" stroke="#000" stroke-width="1.1"/>
<text x="499.6" y="484.5" fill="#000" stroke="#000" stroke-width=".3" textLength="14.7" lengthAdjust="spacingAndGlyphs">+12</text>
<polygon points="501.8,534.0 476.3,544.4 489.4,558.5" fill="#5ca6f4" stroke="#fff" stroke-opacity=".95" stroke-width="1.1" stroke-linejoin="round"/>
<text x="489.4" y="548.2" fill="#fff" stroke="#fff" stroke-width=".2" font-size="7.7px">2</text>
<ellipse cx="501.8" cy="534.0" rx="11" ry="8" fill="#ffffff" stroke="#000" stroke-width="1.1"/>
<text x="501.8" y="537.3" fill="#000" stroke="#000" stroke-width="0" font-weight="bold" textLength="14.7" lengthAdjust="spacingAndGlyphs">MER</text>
<ellipse cx="503.0" cy="586.5" rx="11" ry="8" fill="#ffffff" stroke="#000" stroke-width="1.1"/>
<text x="503.0" y="589.8" fill="#000" stroke="#000" stroke-width="0" font-weight="bold" textLength="14.7" lengthAdjust="spacingAndGlyphs">MER</text>
<polygon points="515.5,23.0 505.9,48.7 525.1,48.7" fill="#5ca6f4" stroke="#fff" stroke-opacity=".95" stroke-width="1.1" stroke-linejoin="round"/>
<text x="515.5" y="42.6" fill="#fff" stroke="#fff" stroke-width=".2" font-size="7.7px">2</text>
<ellipse cx="515.5" cy="23.0" rx="11" ry="8" fill="#c8f9f9" stroke="#000" stroke-width="1.1"/>
<text x="515.5" y="26.3" fill="#000" stroke="#000" stroke-width=".3" textLength="9.8" lengthAdjust="spacingAndGlyphs">+1</text>
<polygon points="518.8,73.8 490.1,85.2 504.7,101.2" fill="#3391f7" stroke="#fff" stroke-opacity=".95" stroke-width="1.1" stroke-linejoin="round"/>
<text x="504.8" y="89.3" fill="#fff" stroke="#fff" stroke-width=".2" font-size="7.7px">3</text>
<ellipse cx="518.8" cy="73.8" rx="11" ry="8" fill="#c8f9f9" stroke="#000" stroke-width="1.1"/>
<text x="518.8" y="77.0" fill="#000" stroke="#000" stroke-width=".3" textLength="9.8" lengthAdjust="spacingAndGlyphs">+3</text>
<ellipse cx="520.0" cy="381.8" rx="11" ry="8" fill="#ffffff" stroke="#000" stroke-width="1.1"/>
<text x="520.0" y="385.1" fill="#000" stroke="#000" stroke-width=".3" textLength="14.7" lengthAdjust="spacingAndGlyphs">+13</text>
<polygon points="521.8,124.2 490.3,137.9 507.1,155.2" fill="#0880f8" stroke="#fff" stroke-opacity=".95" stroke-width="1.1" stroke-linejoin="round"/>
<text x="506.7" y="141.7" fill="#fff" stroke="#fff" stroke-width=".2" font-size="7.7px">4</text>
<ellipse cx="521.8" cy="124.2" rx="11" ry="8" fill="#c8f9f9" stroke="#000" stroke-width="1.1"/>
<text x="521.8" y="127.5" fill="#000" stroke="#000" stroke-width=".3" textLength="9.8" lengthAdjust="spacingAndGlyphs">+3</text>
<polygon points="524.2,176.8 495.4,165.9 495.4,187.6" fill="#3391f7" stroke="#fff" stroke-opacity=".95" stroke-width="1.1" stroke-linejoin="round"/>
<text x="505.3" y="179.6" fill="#fff" stroke="#fff" stroke-width=".2" font-size="7.7px">3</text>
<ellipse cx="524.2" cy="176.8" rx="11" ry="8" fill="#ffffff" stroke="#000" stroke-width="1.1"/>
<text x="524.2" y="180.1" fill="#000" stroke="#000" stroke-width=".3" textLength="9.8" lengthAdjust="spacingAndGlyphs">+6</text>
<polygon points="524.2,228.0 550.0,237.6 550.0,218.4" fill="#f66a6a" stroke="#fff" stroke-opacity=".95" stroke-width="1.1" stroke-linejoin="round"/>
<text x="541.1" y="230.8" fill="#fff" stroke="#fff" stroke-width=".2" font-size="7.7px">2</text>
<ellipse cx="524.2" cy="228.0" rx="10.9" ry="7.8" fill="#0a2ab2"/>
<text x="524.2" y="231.3" fill="#fff" stroke="#fff" stroke-width=".3" textLength="9.8" lengthAdjust="spacingAndGlyphs">-2</text>
<polygon points="530.0,278.0 504.3,268.4 504.3,287.6" fill="#5ca6f4" stroke="#fff" stroke-opacity=".95" stroke-width="1.1" stroke-linejoin="round"/>
<text x="513.2" y="280.8" fill="#fff" stroke="#fff" stroke-width=".2" font-size="7.7px">2</text>
<ellipse cx="530.0" cy="278.0" rx="11" ry="8" fill="#c8f9f9" stroke="#000" stroke-width="1.1"/>
<text x="530.0" y="281.3" fill="#000" stroke="#000" stroke-width=".3" textLength="9.8" lengthAdjust="spacingAndGlyphs">+5</text>
<polygon points="533.0,330.5 508.7,301.7 495.7,324.7" fill="#0864d0" stroke="#fff" stroke-opacity=".95" stroke-width="1.1" stroke-linejoin="round"/>
<text x="512.8" y="322.0" fill="#fff" stroke="#fff" stroke-width=".2" font-size="7.7px">5</text>
<ellipse cx="533.0" cy="330.5" rx="11" ry="8" fill="#ffffff" stroke="#000" stroke-width="1.1"/>
<text x="533.0" y="333.8" fill="#000" stroke="#000" stroke-width=".3" textLength="9.8" lengthAdjust="spacingAndGlyphs">+8</text>
<polygon points="536.0,432.2 560.8,420.4 546.8,407.0" fill="#f66a6a" stroke="#fff" stroke-opacity=".95" stroke-width="1.1" stroke-linejoin="round"/>
<text x="547.7" y="422.9" fill="#fff" stroke="#fff" stroke-width=".2" font-size="7.7px">2</text>
<ellipse cx="536.0" cy="432.2" rx="11" ry="8" fill="#ffffff" stroke="#000" stroke-width="1.1"/>
<text x="536.0" y="435.6" fill="#000" stroke="#000" stroke-width="0" font-weight="bold" textLength="14.7" lengthAdjust="spacingAndGlyphs">MER</text>
<polygon points="537.5,481.4 551.9,512.5 568.8,495.4" fill="#fc0000" stroke="#fff" stroke-opacity=".95" stroke-width="1.1" stroke-linejoin="round"/>
<text x="552.5" y="499.0" fill="#fff" stroke="#fff" stroke-width=".2" font-size="7.7px">4</text>
<ellipse cx="537.5" cy="481.4" rx="11" ry="8" fill="#ffffff" stroke="#000" stroke-width="1.1"/>
<text x="537.5" y="484.7" fill="#000" stroke="#000" stroke-width="0" font-weight="bold" textLength="14.7" lengthAdjust="spacingAndGlyphs">MER</text>
<polygon points="541.8,532.0 513.5,544.5 528.7,560.0" fill="#3391f7" stroke="#fff" stroke-opacity=".95" stroke-width="1.1" stroke-linejoin="round"/>
<text x="528.2" y="548.1" fill="#fff" stroke="#fff" stroke-width=".2" font-size="7.7px">3</text>
<ellipse cx="541.8" cy="532.0" rx="11" ry="8" fill="#ffffff" stroke="#000" stroke-width="1.1"/>
<text x="541.8" y="535.3" fill="#000" stroke="#000" stroke-width="0" font-weight="bold" textLength="14.7" lengthAdjust="spacingAndGlyphs">MER</text>
<ellipse cx="544.2" cy="584.5" rx="11" ry="8" fill="#ffffff" stroke="#000" stroke-width="1.1"/>
<text x="544.2" y="587.8" fill="#000" stroke="#000" stroke-width="0" font-weight="bold" textLength="14.7" lengthAdjust="spacingAndGlyphs">MER</text>
<polygon points="552.0,19.8 528.9,40.2 548.1,50.4" fill="#3391f7" stroke="#fff" stroke-opacity=".95" stroke-width="1.1" stroke-linejoin="round"/>
<text x="543.1" y="39.3" fill="#fff" stroke="#fff" stroke-width=".2" font-size="7.7px">3</text>
<ellipse cx="552.0" cy="19.8" rx="10.9" ry="7.8" fill="#4a6aee"/>
<text x="552.0" y="23.1" fill="#fff" stroke="#fff" stroke-width=".3" textLength="4.9" lengthAdjust="spacingAndGlyphs">0</text>
<polygon points="554.4,70.6 532.8,92.7 552.7,101.4" fill="#3391f7" stroke="#fff" stroke-opacity=".95" stroke-width="1.1" stroke-linejoin="round"/>
<text x="546.8" y="90.7" fill="#fff" stroke="#fff" stroke-width=".2" font-size="7.7px">3</text>
<ellipse cx="554.4" cy="70.6" rx="10.9" ry="7.8" fill="#4a6aee"/>
<text x="554.4" y="73.9" fill="#fff" stroke="#fff" stroke-width=".3" textLength="4.9" lengthAdjust="spacingAndGlyphs">0</text>
<polygon points="557.0,309.0 535.0,287.3 526.2,307.1" fill="#3391f7" stroke="#fff" stroke-opacity=".95" stroke-width="1.1" stroke-linejoin="round"/>
<text x="539.7" y="304.1" fill="#fff" stroke="#fff" stroke-width=".2" font-size="7.7px">3</text>
<ellipse cx="557.0" cy="309.0" rx="11" ry="8" fill="#ffffff" stroke="#000" stroke-width="1.1"/>
<text x="557.0" y="312.3" fill="#000" stroke="#000" stroke-width=".3" textLength="9.8" lengthAdjust="spacingAndGlyphs">+6</text>
<polygon points="558.3,122.5 530.1,135.0 545.3,150.5" fill="#3391f7" stroke="#fff" stroke-opacity=".95" stroke-width="1.1" stroke-linejoin="round"/>
<text x="544.8" y="138.6" fill="#fff" stroke="#fff" stroke-width=".2" font-size="7.7px">3</text>
<ellipse cx="558.3" cy="122.5" rx="11" ry="8" fill="#c8f9f9" stroke="#000" stroke-width="1.1"/>
<text x="558.3" y="125.8" fill="#000" stroke="#000" stroke-width=".3" textLength="9.8" lengthAdjust="spacingAndGlyphs">+3</text>
<polygon points="561.5,174.3 532.6,163.5 532.6,185.1" fill="#3391f7" stroke="#fff" stroke-opacity=".95" stroke-width="1.1" stroke-linejoin="round"/>
<text x="542.6" y="177.1" fill="#fff" stroke="#fff" stroke-width=".2" font-size="7.7px">3</text>
<ellipse cx="561.5" cy="174.3" rx="11" ry="8" fill="#ffffff" stroke="#000" stroke-width="1.1"/>
<text x="561.5" y="177.6" fill="#000" stroke="#000" stroke-width=".3" textLength="9.8" lengthAdjust="spacingAndGlyphs">+6</text>
<polygon points="565.8,223.7 544.9,241.5 561.7,250.8" fill="#5ca6f4" stroke="#fff" stroke-opacity=".95" stroke-width="1.1" stroke-linejoin="round"/>
<text x="557.6" y="241.2" fill="#fff" stroke="#fff" stroke-width=".2" font-size="7.7px">2</text>
<ellipse cx="565.8" cy="223.7" rx="10.9" ry="7.8" fill="#0a2ab2"/>
<text x="565.8" y="227.0" fill="#fff" stroke="#fff" stroke-width=".3" textLength="9.8" lengthAdjust="spacingAndGlyphs">-2</text>
<polygon points="568.3,275.4 537.6,278.6 547.2,298.0" fill="#3391f7" stroke="#fff" stroke-opacity=".95" stroke-width="1.1" stroke-linejoin="round"/>
<text x="551.3" y="286.6" fill="#fff" stroke="#fff" stroke-width=".2" font-size="7.7px">3</text>
<ellipse cx="568.3" cy="275.4" rx="11" ry="8" fill="#c8f9f9" stroke="#000" stroke-width="1.1"/>
<text x="568.3" y="278.7" fill="#000" stroke="#000" stroke-width=".3" textLength="9.8" lengthAdjust="spacingAndGlyphs">+4</text>
<polygon points="573.3,379.2 570.8,348.4 551.2,357.7" fill="#3391f7" stroke="#fff" stroke-opacity=".95" stroke-width="1.1" stroke-linejoin="round"/>
<text x="565.2" y="364.9" fill="#fff" stroke="#fff" stroke-width=".2" font-size="7.7px">3</text>
<ellipse cx="573.3" cy="379.2" rx="11" ry="8" fill="#ffffff" stroke="#000" stroke-width="1.1"/>
<text x="573.3" y="382.5" fill="#000" stroke="#000" stroke-width="0" font-weight="bold" textLength="14.7" lengthAdjust="spacingAndGlyphs">MER</text>
<polygon points="574.1,430.1 596.7,409.1 577.3,399.4" fill="#f93434" stroke="#fff" stroke-opacity=".95" stroke-width="1.1" stroke-linejoin="round"/>
<text x="582.6" y="416.0" fill="#fff" stroke="#fff" stroke-width=".2" font-size="7.7px">3</text>
<ellipse cx="574.1" cy="430.1" rx="11" ry="8" fill="#ffffff" stroke="#000" stroke-width="1.1"/>
<text x="574.1" y="433.4" fill="#000" stroke="#000" stroke-width="0" font-weight="bold" textLength="14.7" lengthAdjust="spacingAndGlyphs">MER</text>
<polygon points="579.5,478.5 551.3,491.0 566.5,506.5" fill="#3391f7" stroke="#fff" stroke-opacity=".95" stroke-width="1.1" stroke-linejoin="round"/>
<text x="566.0" y="494.6" fill="#fff" stroke="#fff" stroke-width=".2" font-size="7.7px">3</text>
<ellipse cx="579.5" cy="478.5" rx="11" ry="8" fill="#ffffff" stroke="#000" stroke-width="1.1"/>
<text x="579.5" y="481.8" fill="#000" stroke="#000" stroke-width="0" font-weight="bold" textLength="14.7" lengthAdjust="spacingAndGlyphs">MER</text>
<polygon points="582.1,528.6 559.9,550.0 579.4,559.3" fill="#3391f7" stroke="#fff" stroke-opacity=".95" stroke-width="1.1" stroke-linejoin="round"/>
<text x="573.9" y="548.5" fill="#fff" stroke="#fff" stroke-width=".2" font-size="7.7px">3</text>
<ellipse cx="582.1" cy="528.6" rx="11" ry="8" fill="#ffffff" stroke="#000" stroke-width="1.1"/>
<text x="582.1" y="531.9" fill="#000" stroke="#000" stroke-width="0" font-weight="bold" textLength="14.7" lengthAdjust="spacingAndGlyphs">MER</text>
<polygon points="583.4,579.3 585.9,606.6 603.3,598.2" fill="#f66a6a" stroke="#fff" stroke-opacity=".95" stroke-width="1.1" stroke-linejoin="round"/>
<text x="590.7" y="597.3" fill="#fff" stroke="#fff" stroke-width=".2" font-size="7.7px">2</text>
<ellipse cx="583.4" cy="579.3" rx="11" ry="8" fill="#ffffff" stroke="#000" stroke-width="1.1"/>
<text x="583.4" y="582.6" fill="#000" stroke="#000" stroke-width="0" font-weight="bold" textLength="14.7" lengthAdjust="spacingAndGlyphs">MER</text>
<polygon points="587.6,18.8 559.4,31.3 574.6,46.8" fill="#3391f7" stroke="#fff" stroke-opacity=".95" stroke-width="1.1" stroke-linejoin="round"/>
<text x="574.1" y="34.9" fill="#fff" stroke="#fff" stroke-width=".2" font-size="7.7px">3</text>
<ellipse cx="587.6" cy="18.8" rx="10.9" ry="7.8" fill="#0a2ab2"/>
<text x="587.6" y="22.1" fill="#fff" stroke="#fff" stroke-width=".3" textLength="9.8" lengthAdjust="spacingAndGlyphs">-2</text>
<polygon points="590.2,68.3 570.4,87.4 587.9,95.6" fill="#5ca6f4" stroke="#fff" stroke-opacity=".95" stroke-width="1.1" stroke-linejoin="round"/>
<text x="583.0" y="86.3" fill="#fff" stroke="#fff" stroke-width=".2" font-size="7.7px">2</text>
<ellipse cx="590.2" cy="68.3" rx="10.9" ry="7.8" fill="#0a2ab2"/>
<text x="590.2" y="71.6" fill="#fff" stroke="#fff" stroke-width=".3" textLength="9.8" lengthAdjust="spacingAndGlyphs">-1</text>
<polygon points="593.4,306.8 581.5,282.0 568.2,296.0" fill="#5ca6f4" stroke="#fff" stroke-opacity=".95" stroke-width="1.1" stroke-linejoin="round"/>
<text x="581.3" y="297.9" fill="#fff" stroke="#fff" stroke-width=".2" font-size="7.7px">2</text>
<ellipse cx="593.4" cy="306.8" rx="11" ry="8" fill="#ffffff" stroke="#000" stroke-width="1.1"/>
<text x="593.4" y="310.1" fill="#000" stroke="#000" stroke-width=".3" textLength="14.7" lengthAdjust="spacingAndGlyphs">+10</text>
<polygon points="595.2,119.2 568.0,122.8 577.0,139.8" fill="#5ca6f4" stroke="#fff" stroke-opacity=".95" stroke-width="1.1" stroke-linejoin="round"/>
<text x="580.3" y="129.9" fill="#fff" stroke="#fff" stroke-width=".2" font-size="7.7px">2</text>
<ellipse cx="595.2" cy="119.2" rx="11" ry="8" fill="#c8f9f9" stroke="#000" stroke-width="1.1"/>
<text x="595.2" y="122.5" fill="#000" stroke="#000" stroke-width=".3" textLength="9.8" lengthAdjust="spacingAndGlyphs">+1</text>
<polygon points="599.7,172.5 579.3,149.3 569.1,168.4" fill="#3391f7" stroke="#fff" stroke-opacity=".95" stroke-width="1.1" stroke-linejoin="round"/>
<text x="583.0" y="166.4" fill="#fff" stroke="#fff" stroke-width=".2" font-size="7.7px">3</text>
<ellipse cx="599.7" cy="172.5" rx="11" ry="8" fill="#c8f9f9" stroke="#000" stroke-width="1.1"/>
<text x="599.7" y="175.8" fill="#000" stroke="#000" stroke-width=".3" textLength="9.8" lengthAdjust="spacingAndGlyphs">+4</text>
<polygon points="601.7,223.7 589.6,199.1 576.4,213.1" fill="#5ca6f4" stroke="#fff" stroke-opacity=".95" stroke-width="1.1" stroke-linejoin="round"/>
<text x="589.5" y="214.9" fill="#fff" stroke="#fff" stroke-width=".2" font-size="7.7px">2</text>
<ellipse cx="601.7" cy="223.7" rx="10.9" ry="7.8" fill="#0a2ab2"/>
<text x="601.7" y="227.0" fill="#fff" stroke="#fff" stroke-width=".3" textLength="9.8" lengthAdjust="spacingAndGlyphs">-2</text>
<polygon points="606.7,274.7 587.3,255.3 579.3,272.8" fill="#5ca6f4" stroke="#fff" stroke-opacity=".95" stroke-width="1.1" stroke-linejoin="round"/>
<text x="591.4" y="270.5" fill="#fff" stroke="#fff" stroke-width=".2" font-size="7.7px">2</text>
<ellipse cx="606.7" cy="274.7" rx="11" ry="8" fill="#c8f9f9" stroke="#000" stroke-width="1.1"/>
<text x="606.7" y="278.0" fill="#000" stroke="#000" stroke-width=".3" textLength="9.8" lengthAdjust="spacingAndGlyphs">+5</text>
<polygon points="613.5,376.4 589.1,347.7 576.2,370.8" fill="#0864d0" stroke="#fff" stroke-opacity=".95" stroke-width="1.1" stroke-linejoin="round"/>
<text x="593.3" y="368.0" fill="#fff" stroke="#fff" stroke-width=".2" font-size="7.7px">5</text>
<ellipse cx="613.5" cy="376.4" rx="11" ry="8" fill="#ffffff" stroke="#000" stroke-width="1.1"/>
<text x="613.5" y="379.7" fill="#000" stroke="#000" stroke-width="0" font-weight="bold" textLength="14.7" lengthAdjust="spacingAndGlyphs">MER</text>
<polygon points="613.5,428.9 635.9,407.6 616.4,398.2" fill="#f93434" stroke="#fff" stroke-opacity=".95" stroke-width="1.1" stroke-linejoin="round"/>
<text x="621.8" y="414.7" fill="#fff" stroke="#fff" stroke-width=".2" font-size="7.7px">3</text>
<ellipse cx="613.5" cy="428.9" rx="11" ry="8" fill="#ffffff" stroke="#000" stroke-width="1.1"/>
<text x="613.5" y="432.2" fill="#000" stroke="#000" stroke-width="0" font-weight="bold" textLength="14.7" lengthAdjust="spacingAndGlyphs">MER</text>
<polygon points="616.6,478.6 647.2,474.8 637.2,455.6" fill="#f93434" stroke="#fff" stroke-opacity=".95" stroke-width="1.1" stroke-linejoin="round"/>
<text x="633.4" y="472.6" fill="#fff" stroke="#fff" stroke-width=".2" font-size="7.7px">3</text>
<ellipse cx="616.6" cy="478.6" rx="11" ry="8" fill="#ffffff" stroke="#000" stroke-width="1.1"/>
<text x="616.6" y="481.9" fill="#000" stroke="#000" stroke-width="0" font-weight="bold" textLength="14.7" lengthAdjust="spacingAndGlyphs">MER</text>
<polygon points="622.3,526.6 599.9,547.9 619.4,557.3" fill="#3391f7" stroke="#fff" stroke-opacity=".95" stroke-width="1.1" stroke-linejoin="round"/>
<text x="614.0" y="546.4" fill="#fff" stroke="#fff" stroke-width=".2" font-size="7.7px">3</text>
<ellipse cx="622.3" cy="526.6" rx="11" ry="8" fill="#ffffff" stroke="#000" stroke-width="1.1"/>
<text x="622.3" y="529.9" fill="#000" stroke="#000" stroke-width="0" font-weight="bold" textLength="14.7" lengthAdjust="spacingAndGlyphs">MER</text>
<polygon points="623.0,15.5 595.0,28.5 610.5,43.7" fill="#3391f7" stroke="#fff" stroke-opacity=".95" stroke-width="1.1" stroke-linejoin="round"/>
<text x="609.7" y="31.8" fill="#fff" stroke="#fff" stroke-width=".2" font-size="7.7px">3</text>
<ellipse cx="623.0" cy="15.5" rx="10.9" ry="7.8" fill="#0a2ab2"/>
<text x="623.0" y="18.8" fill="#fff" stroke="#fff" stroke-width=".3" textLength="9.8" lengthAdjust="spacingAndGlyphs">-1</text>
<polygon points="623.5,578.5 634.9,603.5 648.5,589.9" fill="#f66a6a" stroke="#fff" stroke-opacity=".95" stroke-width="1.1" stroke-linejoin="round"/>
<text x="635.4" y="593.2" fill="#fff" stroke="#fff" stroke-width=".2" font-size="7.7px">2</text>
<ellipse cx="623.5" cy="578.5" rx="11" ry="8" fill="#ffffff" stroke="#000" stroke-width="1.1"/>
<text x="623.5" y="581.8" fill="#000" stroke="#000" stroke-width="0" font-weight="bold" textLength="14.7" lengthAdjust="spacingAndGlyphs">MER</text>
<polygon points="626.8,66.5 599.6,70.1 608.7,87.1" fill="#5ca6f4" stroke="#fff" stroke-opacity=".95" stroke-width="1.1" stroke-linejoin="round"/>
<text x="611.9" y="77.2" fill="#fff" stroke="#fff" stroke-width=".2" font-size="7.7px">2</text>
<ellipse cx="626.8" cy="66.5" rx="10.9" ry="7.8" fill="#0a2ab2"/>
<text x="626.8" y="69.8" fill="#fff" stroke="#fff" stroke-width=".3" textLength="9.8" lengthAdjust="spacingAndGlyphs">-1</text>
<polygon points="631.8,119.2 610.7,96.7 601.1,116.1" fill="#3391f7" stroke="#fff" stroke-opacity=".95" stroke-width="1.1" stroke-linejoin="round"/>
<text x="614.8" y="113.6" fill="#fff" stroke="#fff" stroke-width=".2" font-size="7.7px">3</text>
<ellipse cx="631.8" cy="119.2" rx="10.9" ry="7.8" fill="#0a2ab2"/>
<text x="631.8" y="122.5" fill="#fff" stroke="#fff" stroke-width=".3" textLength="9.8" lengthAdjust="spacingAndGlyphs">-1</text>
<polygon points="637.3,170.5 614.2,145.2 603.2,166.6" fill="#0880f8" stroke="#fff" stroke-opacity=".95" stroke-width="1.1" stroke-linejoin="round"/>
<text x="618.6" y="163.7" fill="#fff" stroke="#fff" stroke-width=".2" font-size="7.7px">4</text>
<ellipse cx="637.3" cy="170.5" rx="11" ry="8" fill="#c8f9f9" stroke="#000" stroke-width="1.1"/>
<text x="637.3" y="173.8" fill="#000" stroke="#000" stroke-width=".3" textLength="9.8" lengthAdjust="spacingAndGlyphs">+3</text>
<polygon points="639.3,220.7 627.1,192.4 611.4,207.4" fill="#3391f7" stroke="#fff" stroke-opacity=".95" stroke-width="1.1" stroke-linejoin="round"/>
<text x="626.2" y="209.9" fill="#fff" stroke="#fff" stroke-width=".2" font-size="7.7px">3</text>
<ellipse cx="639.3" cy="220.7" rx="11" ry="8" fill="#ffffff" stroke="#000" stroke-width="1.1"/>
<text x="639.3" y="224.0" fill="#000" stroke="#000" stroke-width=".3" textLength="9.8" lengthAdjust="spacingAndGlyphs">+7</text>
<ellipse cx="643.6" cy="271.4" rx="11" ry="8" fill="#ffffff" stroke="#000" stroke-width="1.1"/>
<text x="643.6" y="274.7" fill="#000" stroke="#000" stroke-width=".3" textLength="14.7" lengthAdjust="spacingAndGlyphs">+10</text>
<polygon points="647.4,321.1 618.5,310.3 618.5,331.9" fill="#3391f7" stroke="#fff" stroke-opacity=".95" stroke-width="1.1" stroke-linejoin="round"/>
<text x="628.5" y="323.9" fill="#fff" stroke="#fff" stroke-width=".2" font-size="7.7px">3</text>
<ellipse cx="647.4" cy="321.1" rx="11" ry="8" fill="#ffffff" stroke="#000" stroke-width="1.1"/>
<text x="647.4" y="324.4" fill="#000" stroke="#000" stroke-width="0" font-weight="bold" textLength="14.7" lengthAdjust="spacingAndGlyphs">MER</text>
<polygon points="652.0,373.1 616.7,359.9 616.7,386.3" fill="#0864d0" stroke="#fff" stroke-opacity=".95" stroke-width="1.1" stroke-linejoin="round"/>
<text x="628.9" y="375.9" fill="#fff" stroke="#fff" stroke-width=".2" font-size="7.7px">5</text>
<ellipse cx="652.0" cy="373.1" rx="11" ry="8" fill="#ffffff" stroke="#000" stroke-width="1.1"/>
<text x="652.0" y="376.4" fill="#000" stroke="#000" stroke-width="0" font-weight="bold" textLength="14.7" lengthAdjust="spacingAndGlyphs">MER</text>
<polygon points="655.7,475.3 683.0,472.8 674.6,455.4" fill="#f66a6a" stroke="#fff" stroke-opacity=".95" stroke-width="1.1" stroke-linejoin="round"/>
<text x="670.9" y="470.8" fill="#fff" stroke="#fff" stroke-width=".2" font-size="7.7px">2</text>
<ellipse cx="655.7" cy="475.3" rx="11" ry="8" fill="#ffffff" stroke="#000" stroke-width="1.1"/>
<text x="655.7" y="478.6" fill="#000" stroke="#000" stroke-width="0" font-weight="bold" textLength="14.7" lengthAdjust="spacingAndGlyphs">MER</text>
<ellipse cx="656.2" cy="424.4" rx="11" ry="8" fill="#ffffff" stroke="#000" stroke-width="1.1"/>
<text x="656.2" y="427.7" fill="#000" stroke="#000" stroke-width=".3" textLength="14.7" lengthAdjust="spacingAndGlyphs">+12</text>
<polygon points="658.2,11.3 639.2,31.1 656.9,38.7" fill="#5ca6f4" stroke="#fff" stroke-opacity=".95" stroke-width="1.1" stroke-linejoin="round"/>
<text x="651.5" y="29.6" fill="#fff" stroke="#fff" stroke-width=".2" font-size="7.7px">2</text>
<ellipse cx="658.2" cy="11.3" rx="10.9" ry="7.8" fill="#4a6aee"/>
<text x="658.2" y="14.6" fill="#fff" stroke="#fff" stroke-width=".3" textLength="4.9" lengthAdjust="spacingAndGlyphs">0</text>
<polygon points="662.4,64.8 636.7,55.2 636.7,74.4" fill="#5ca6f4" stroke="#fff" stroke-opacity=".95" stroke-width="1.1" stroke-linejoin="round"/>
<text x="645.6" y="67.6" fill="#fff" stroke="#fff" stroke-width=".2" font-size="7.7px">2</text>
<ellipse cx="662.4" cy="64.8" rx="10.9" ry="7.8" fill="#4a6aee"/>
<text x="662.4" y="68.1" fill="#fff" stroke="#fff" stroke-width=".3" textLength="4.9" lengthAdjust="spacingAndGlyphs">0</text>
<polygon points="662.4,523.6 639.8,544.6 659.2,554.3" fill="#3391f7" stroke="#fff" stroke-opacity=".95" stroke-width="1.1" stroke-linejoin="round"/>
<text x="653.9" y="543.3" fill="#fff" stroke="#fff" stroke-width=".2" font-size="7.7px">3</text>
<ellipse cx="662.4" cy="523.6" rx="11" ry="8" fill="#ffffff" stroke="#000" stroke-width="1.1"/>
<text x="662.4" y="526.9" fill="#000" stroke="#000" stroke-width="0" font-weight="bold" textLength="14.7" lengthAdjust="spacingAndGlyphs">MER</text>
<polygon points="664.4,574.8 668.0,605.5 687.3,595.5" fill="#f93434" stroke="#fff" stroke-opacity=".95" stroke-width="1.1" stroke-linejoin="round"/>
<text x="673.1" y="594.4" fill="#fff" stroke="#fff" stroke-width=".2" font-size="7.7px">3</text>
<ellipse cx="664.4" cy="574.8" rx="11" ry="8" fill="#ffffff" stroke="#000" stroke-width="1.1"/>
<text x="664.4" y="578.1" fill="#000" stroke="#000" stroke-width="0" font-weight="bold" textLength="14.7" lengthAdjust="spacingAndGlyphs">MER</text>
<polygon points="668.7,116.0 646.6,94.5 637.9,114.3" fill="#3391f7" stroke="#fff" stroke-opacity=".95" stroke-width="1.1" stroke-linejoin="round"/>
<text x="651.4" y="111.2" fill="#fff" stroke="#fff" stroke-width=".2" font-size="7.7px">3</text>
<ellipse cx="668.7" cy="116.0" rx="11" ry="8" fill="#c8f9f9" stroke="#000" stroke-width="1.1"/>
<text x="668.7" y="119.3" fill="#000" stroke="#000" stroke-width=".3" textLength="9.8" lengthAdjust="spacingAndGlyphs">+1</text>
<polygon points="671.7,160.0 657.3,128.9 640.4,146.1" fill="#0880f8" stroke="#fff" stroke-opacity=".95" stroke-width="1.1" stroke-linejoin="round"/>
<text x="656.7" y="148.1" fill="#fff" stroke="#fff" stroke-width=".2" font-size="7.7px">4</text>
<ellipse cx="671.7" cy="160.0" rx="11" ry="8" fill="#ffffff" stroke="#000" stroke-width="1.1"/>
<text x="671.7" y="163.3" fill="#000" stroke="#000" stroke-width=".3" textLength="9.8" lengthAdjust="spacingAndGlyphs">+6</text>
<polygon points="676.7,217.7 658.3,177.2 636.2,199.3" fill="#0864d0" stroke="#fff" stroke-opacity=".95" stroke-width="1.1" stroke-linejoin="round"/>
<text x="657.4" y="201.2" fill="#fff" stroke="#fff" stroke-width=".2" font-size="7.7px">7</text>
<ellipse cx="676.7" cy="217.7" rx="11" ry="8" fill="#ffffff" stroke="#000" stroke-width="1.1"/>
<text x="676.7" y="221.0" fill="#000" stroke="#000" stroke-width="0" font-weight="bold" textLength="14.7" lengthAdjust="spacingAndGlyphs">MER</text>
<polygon points="680.0,266.6 669.2,295.5 690.8,295.5" fill="#3391f7" stroke="#fff" stroke-opacity=".95" stroke-width="1.1" stroke-linejoin="round"/>
<text x="680.0" y="288.3" fill="#fff" stroke="#fff" stroke-width=".2" font-size="7.7px">3</text>
<ellipse cx="680.0" cy="266.6" rx="11" ry="8" fill="#ffffff" stroke="#000" stroke-width="1.1"/>
<text x="680.0" y="269.9" fill="#000" stroke="#000" stroke-width="0" font-weight="bold" textLength="14.7" lengthAdjust="spacingAndGlyphs">MER</text>
<polygon points="680.0,403.3 660.2,384.3 652.6,402.0" fill="#5ca6f4" stroke="#fff" stroke-opacity=".95" stroke-width="1.1" stroke-linejoin="round"/>
<text x="664.5" y="399.4" fill="#fff" stroke="#fff" stroke-width=".2" font-size="7.7px">2</text>
<ellipse cx="680.0" cy="403.3" rx="11" ry="8" fill="#ffffff" stroke="#000" stroke-width="1.1"/>
<text x="680.0" y="406.6" fill="#000" stroke="#000" stroke-width=".3" textLength="14.7" lengthAdjust="spacingAndGlyphs">+14</text>
<polygon points="686.8,317.8 656.0,319.3 664.5,339.2" fill="#3391f7" stroke="#fff" stroke-opacity=".95" stroke-width="1.1" stroke-linejoin="round"/>
<text x="669.4" y="328.1" fill="#fff" stroke="#fff" stroke-width=".2" font-size="7.7px">3</text>
<ellipse cx="686.8" cy="317.8" rx="11" ry="8" fill="#ffffff" stroke="#000" stroke-width="1.1"/>
<text x="686.8" y="321.1" fill="#000" stroke="#000" stroke-width="0" font-weight="bold" textLength="14.7" lengthAdjust="spacingAndGlyphs">MER</text>
<polygon points="690.5,369.1 655.2,355.9 655.2,382.3" fill="#0864d0" stroke="#fff" stroke-opacity=".95" stroke-width="1.1" stroke-linejoin="round"/>
<text x="667.4" y="371.9" fill="#fff" stroke="#fff" stroke-width=".2" font-size="7.7px">5</text>
<ellipse cx="690.5" cy="369.1" rx="11" ry="8" fill="#ffffff" stroke="#000" stroke-width="1.1"/>
<text x="690.5" y="372.4" fill="#000" stroke="#000" stroke-width="0" font-weight="bold" textLength="14.7" lengthAdjust="spacingAndGlyphs">MER</text>
<polygon points="693.3,8.8 674.1,28.4 691.7,36.2" fill="#5ca6f4" stroke="#fff" stroke-opacity=".95" stroke-width="1.1" stroke-linejoin="round"/>
<text x="686.5" y="27.0" fill="#fff" stroke="#fff" stroke-width=".2" font-size="7.7px">2</text>
<ellipse cx="693.3" cy="8.8" rx="11" ry="8" fill="#c8f9f9" stroke="#000" stroke-width="1.1"/>
<text x="693.3" y="12.1" fill="#000" stroke="#000" stroke-width=".3" textLength="9.8" lengthAdjust="spacingAndGlyphs">+2</text>
<polygon points="694.3,145.0 675.4,125.1 667.0,142.5" fill="#5ca6f4" stroke="#fff" stroke-opacity=".95" stroke-width="1.1" stroke-linejoin="round"/>
<text x="679.1" y="140.5" fill="#fff" stroke="#fff" stroke-width=".2" font-size="7.7px">2</text>
<ellipse cx="694.3" cy="145.0" rx="11" ry="8" fill="#ffffff" stroke="#000" stroke-width="1.1"/>
<text x="694.3" y="148.3" fill="#000" stroke="#000" stroke-width=".3" textLength="9.8" lengthAdjust="spacingAndGlyphs">+8</text>
<polygon points="697.6,471.0 688.0,496.7 707.2,496.7" fill="#5ca6f4" stroke="#fff" stroke-opacity=".95" stroke-width="1.1" stroke-linejoin="round"/>
<text x="697.6" y="490.6" fill="#fff" stroke="#fff" stroke-width=".2" font-size="7.7px">2</text>
<ellipse cx="697.6" cy="471.0" rx="11" ry="8" fill="#ffffff" stroke="#000" stroke-width="1.1"/>
<text x="697.6" y="474.3" fill="#000" stroke="#000" stroke-width="0" font-weight="bold" textLength="14.7" lengthAdjust="spacingAndGlyphs">MER</text>
<polygon points="699.6,61.0 680.0,41.8 672.2,59.4" fill="#5ca6f4" stroke="#fff" stroke-opacity=".95" stroke-width="1.1" stroke-linejoin="round"/>
<text x="684.2" y="57.0" fill="#fff" stroke="#fff" stroke-width=".2" font-size="7.7px">2</text>
<ellipse cx="699.6" cy="61.0" rx="10.9" ry="7.8" fill="#4a6aee"/>
<text x="699.6" y="64.3" fill="#fff" stroke="#fff" stroke-width=".3" textLength="4.9" lengthAdjust="spacingAndGlyphs">0</text>
<polygon points="700.6,111.7 728.0,110.1 720.2,92.5" fill="#f66a6a" stroke="#fff" stroke-opacity=".95" stroke-width="1.1" stroke-linejoin="round"/>
<text x="716.0" y="107.7" fill="#fff" stroke="#fff" stroke-width=".2" font-size="7.7px">2</text>
<ellipse cx="700.6" cy="111.7" rx="11" ry="8" fill="#ffffff" stroke="#000" stroke-width="1.1"/>
<text x="700.6" y="115.0" fill="#000" stroke="#000" stroke-width=".3" textLength="9.8" lengthAdjust="spacingAndGlyphs">+7</text>
<polygon points="701.3,521.6 690.5,550.5 712.1,550.5" fill="#3391f7" stroke="#fff" stroke-opacity=".95" stroke-width="1.1" stroke-linejoin="round"/>
<text x="701.3" y="543.3" fill="#fff" stroke="#fff" stroke-width=".2" font-size="7.7px">3</text>
<ellipse cx="701.3" cy="521.6" rx="11" ry="8" fill="#ffffff" stroke="#000" stroke-width="1.1"/>
<text x="701.3" y="524.9" fill="#000" stroke="#000" stroke-width="0" font-weight="bold" textLength="14.7" lengthAdjust="spacingAndGlyphs">MER</text>
<polygon points="705.1,571.8 716.9,596.6 730.3,582.7" fill="#f66a6a" stroke="#fff" stroke-opacity=".95" stroke-width="1.1" stroke-linejoin="round"/>
<text x="717.2" y="586.3" fill="#fff" stroke="#fff" stroke-width=".2" font-size="7.7px">2</text>
<ellipse cx="705.1" cy="571.8" rx="11" ry="8" fill="#ffffff" stroke="#000" stroke-width="1.1"/>
<text x="705.1" y="575.1" fill="#000" stroke="#000" stroke-width="0" font-weight="bold" textLength="14.7" lengthAdjust="spacingAndGlyphs">MER</text>
<polygon points="713.9,214.4 695.5,173.9 673.4,196.0" fill="#0864d0" stroke="#fff" stroke-opacity=".95" stroke-width="1.1" stroke-linejoin="round"/>
<text x="694.6" y="197.9" fill="#fff" stroke="#fff" stroke-width=".2" font-size="7.7px">7</text>
<ellipse cx="713.9" cy="214.4" rx="11" ry="8" fill="#ffffff" stroke="#000" stroke-width="1.1"/>
<text x="713.9" y="217.7" fill="#000" stroke="#000" stroke-width="0" font-weight="bold" textLength="14.7" lengthAdjust="spacingAndGlyphs">MER</text>
<polygon points="718.4,265.4 700.0,224.9 677.9,247.0" fill="#0864d0" stroke="#fff" stroke-opacity=".95" stroke-width="1.1" stroke-linejoin="round"/>
<text x="699.1" y="248.9" fill="#fff" stroke="#fff" stroke-width=".2" font-size="7.7px">7</text>
<ellipse cx="718.4" cy="265.4" rx="11" ry="8" fill="#ffffff" stroke="#000" stroke-width="1.1"/>
<text x="718.4" y="268.7" fill="#000" stroke="#000" stroke-width="0" font-weight="bold" textLength="14.7" lengthAdjust="spacingAndGlyphs">MER</text>
<polygon points="724.7,316.6 706.2,296.4 697.4,313.6" fill="#5ca6f4" stroke="#fff" stroke-opacity=".95" stroke-width="1.1" stroke-linejoin="round"/>
<text x="709.7" y="311.8" fill="#fff" stroke="#fff" stroke-width=".2" font-size="7.7px">2</text>
<ellipse cx="724.7" cy="316.6" rx="11" ry="8" fill="#ffffff" stroke="#000" stroke-width="1.1"/>
<text x="724.7" y="319.9" fill="#000" stroke="#000" stroke-width="0" font-weight="bold" textLength="14.7" lengthAdjust="spacingAndGlyphs">MER</text>
<polygon points="728.1,365.8 696.0,353.8 696.0,377.8" fill="#0880f8" stroke="#fff" stroke-opacity=".95" stroke-width="1.1" stroke-linejoin="round"/>
<text x="707.1" y="368.6" fill="#fff" stroke="#fff" stroke-width=".2" font-size="7.7px">4</text>
<ellipse cx="728.1" cy="365.8" rx="11" ry="8" fill="#ffffff" stroke="#000" stroke-width="1.1"/>
<text x="728.1" y="369.1" fill="#000" stroke="#000" stroke-width="0" font-weight="bold" textLength="14.7" lengthAdjust="spacingAndGlyphs">MER</text>
<polygon points="733.7,417.6 720.3,386.1 702.8,402.7" fill="#0880f8" stroke="#fff" stroke-opacity=".95" stroke-width="1.1" stroke-linejoin="round"/>
<text x="719.2" y="405.2" fill="#fff" stroke="#fff" stroke-width=".2" font-size="7.7px">4</text>
<ellipse cx="733.7" cy="417.6" rx="11" ry="8" fill="#ffffff" stroke="#000" stroke-width="1.1"/>
<text x="733.7" y="420.9" fill="#000" stroke="#000" stroke-width="0" font-weight="bold" textLength="14.7" lengthAdjust="spacingAndGlyphs">MER</text>
<ellipse cx="736.3" cy="466.5" rx="11" ry="8" fill="#ffffff" stroke="#000" stroke-width="1.1"/>
<text x="736.3" y="469.8" fill="#000" stroke="#000" stroke-width="0" font-weight="bold" textLength="14.7" lengthAdjust="spacingAndGlyphs">MER</text>
<polygon points="742.5,517.6 731.7,546.5 753.3,546.5" fill="#3391f7" stroke="#fff" stroke-opacity=".95" stroke-width="1.1" stroke-linejoin="round"/>
<text x="742.5" y="539.3" fill="#fff" stroke="#fff" stroke-width=".2" font-size="7.7px">3</text>
<ellipse cx="742.5" cy="517.6" rx="11" ry="8" fill="#ffffff" stroke="#000" stroke-width="1.1"/>
<text x="742.5" y="520.9" fill="#000" stroke="#000" stroke-width="0" font-weight="bold" textLength="14.7" lengthAdjust="spacingAndGlyphs">MER</text>
<ellipse cx="748.6" cy="568.0" rx="11" ry="8" fill="#ffffff" stroke="#000" stroke-width="1.1"/>
<text x="748.6" y="571.3" fill="#000" stroke="#000" stroke-width="0" font-weight="bold" textLength="14.7" lengthAdjust="spacingAndGlyphs">MER</text>
</g>
<rect x="0" y="651.6" width="737" height="20.399999999999977" fill="#2c2d31"/>
<text x="368" y="668.7" fill="#fff" font-family="'Liberation Sans',Arial,sans-serif" font-size="21.43px" text-anchor="middle">(c) windmig - Tuesday 30 December 2025 - 12H</text>
</svg>
</body></html>
